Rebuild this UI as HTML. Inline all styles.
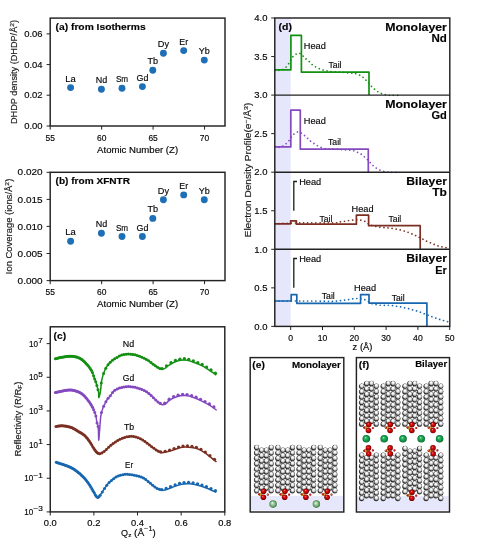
<!DOCTYPE html>
<html><head><meta charset="utf-8"><style>
html,body{margin:0;padding:0;background:#fff;width:500px;height:543px;overflow:hidden}
svg{display:block;will-change:transform}
text{font-family:"Liberation Sans", sans-serif;stroke:#1a1a1a;stroke-width:0.16px}
</style></head><body>
<svg width="500" height="543" viewBox="0 0 500 543">
<defs>
<clipPath id="clipc"><rect x="50.25" y="326.8" width="174.55" height="185.1"/></clipPath>
<clipPath id="clipd"><rect x="274.8" y="18" width="175" height="308.4"/></clipPath>
<radialGradient id="gs" cx="0.5" cy="0.5" r="0.5" fx="0.42" fy="0.32"><stop offset="0" stop-color="#ffffff"/><stop offset="0.3" stop-color="#fafafa"/><stop offset="0.6" stop-color="#d4d4d4"/><stop offset="0.88" stop-color="#8e8e8e"/><stop offset="1" stop-color="#606060"/></radialGradient>
<radialGradient id="gr" cx="0.5" cy="0.5" r="0.5" fx="0.38" fy="0.33"><stop offset="0" stop-color="#ff8a8a"/><stop offset="0.3" stop-color="#e01414"/><stop offset="0.75" stop-color="#b00000"/><stop offset="1" stop-color="#5a0000"/></radialGradient>
<radialGradient id="gp" cx="0.5" cy="0.5" r="0.5"><stop offset="0" stop-color="#e8b040"/><stop offset="1" stop-color="#a06810"/></radialGradient>
<radialGradient id="gg1" cx="0.5" cy="0.5" r="0.5" fx="0.38" fy="0.33"><stop offset="0" stop-color="#e8f8e8"/><stop offset="0.35" stop-color="#a8d4a8"/><stop offset="0.8" stop-color="#5e9a68"/><stop offset="1" stop-color="#3a6a44"/></radialGradient>
<radialGradient id="gg2" cx="0.5" cy="0.5" r="0.5" fx="0.38" fy="0.33"><stop offset="0" stop-color="#a8f0c0"/><stop offset="0.3" stop-color="#28b860"/><stop offset="0.8" stop-color="#0c8a42"/><stop offset="1" stop-color="#055a28"/></radialGradient>
</defs>
<rect x="0" y="0" width="500" height="543" fill="#ffffff"/>
<rect x="50.2" y="18.1" width="174.8" height="107.9" fill="none" stroke="#222222" stroke-width="1.45"/>
<line x1="46.6" y1="126" x2="50.2" y2="126" stroke="#222222" stroke-width="1.0" />
<text x="42.6" y="129.1" font-size="8.6" text-anchor="end" textLength="18.4" lengthAdjust="spacingAndGlyphs" >0.00</text>
<line x1="46.6" y1="95.2" x2="50.2" y2="95.2" stroke="#222222" stroke-width="1.0" />
<text x="42.6" y="98.3" font-size="8.6" text-anchor="end" textLength="18.4" lengthAdjust="spacingAndGlyphs" >0.02</text>
<line x1="46.6" y1="64.6" x2="50.2" y2="64.6" stroke="#222222" stroke-width="1.0" />
<text x="42.6" y="67.7" font-size="8.6" text-anchor="end" textLength="18.4" lengthAdjust="spacingAndGlyphs" >0.04</text>
<line x1="46.6" y1="33.9" x2="50.2" y2="33.9" stroke="#222222" stroke-width="1.0" />
<text x="42.6" y="37" font-size="8.6" text-anchor="end" textLength="18.4" lengthAdjust="spacingAndGlyphs" >0.06</text>
<line x1="50.2" y1="126" x2="50.2" y2="129.6" stroke="#222222" stroke-width="1.0" />
<text x="50.2" y="140.6" font-size="8.6" text-anchor="middle" textLength="9.4" lengthAdjust="spacingAndGlyphs" >55</text>
<line x1="101.65" y1="126" x2="101.65" y2="129.6" stroke="#222222" stroke-width="1.0" />
<text x="101.65" y="140.6" font-size="8.6" text-anchor="middle" textLength="9.4" lengthAdjust="spacingAndGlyphs" >60</text>
<line x1="153.1" y1="126" x2="153.1" y2="129.6" stroke="#222222" stroke-width="1.0" />
<text x="153.1" y="140.6" font-size="8.6" text-anchor="middle" textLength="9.4" lengthAdjust="spacingAndGlyphs" >65</text>
<line x1="204.55" y1="126" x2="204.55" y2="129.6" stroke="#222222" stroke-width="1.0" />
<text x="204.55" y="140.6" font-size="8.6" text-anchor="middle" textLength="9.4" lengthAdjust="spacingAndGlyphs" >70</text>
<text x="137.6" y="152.7" font-size="8.6" text-anchor="middle" textLength="81" lengthAdjust="spacingAndGlyphs" >Atomic Number (Z)</text>
<text transform="translate(16.9,72.05) rotate(-90)" x="0" y="0" font-size="8.6" text-anchor="middle" fill="#1a1a1a" textLength="104" lengthAdjust="spacingAndGlyphs">DHDP density (DHDP/Å<tspan font-size="6.2" dy="-3.2">2</tspan><tspan dy="3.2">)</tspan></text>
<text x="55.6" y="30.2" font-size="8.8" text-anchor="start" font-weight="bold" textLength="90" lengthAdjust="spacingAndGlyphs" >(a) from Isotherms</text>
<circle cx="70.6" cy="87.6" r="3.45" fill="#1f6fb6"/>
<text x="70.6" y="81.6" font-size="8.6" text-anchor="middle" textLength="10.5" lengthAdjust="spacingAndGlyphs" >La</text>
<circle cx="101.4" cy="89.3" r="3.45" fill="#1f6fb6"/>
<text x="101.4" y="83.3" font-size="8.6" text-anchor="middle" textLength="11.5" lengthAdjust="spacingAndGlyphs" >Nd</text>
<circle cx="122" cy="88.2" r="3.45" fill="#1f6fb6"/>
<text x="122" y="82.2" font-size="8.6" text-anchor="middle" textLength="12.2" lengthAdjust="spacingAndGlyphs" >Sm</text>
<circle cx="142.4" cy="86.6" r="3.45" fill="#1f6fb6"/>
<text x="142.4" y="80.6" font-size="8.6" text-anchor="middle" textLength="11.8" lengthAdjust="spacingAndGlyphs" >Gd</text>
<circle cx="152.8" cy="70.3" r="3.45" fill="#1f6fb6"/>
<text x="152.8" y="64.3" font-size="8.6" text-anchor="middle" textLength="10.6" lengthAdjust="spacingAndGlyphs" >Tb</text>
<circle cx="163.4" cy="53.2" r="3.45" fill="#1f6fb6"/>
<text x="163.4" y="47.2" font-size="8.6" text-anchor="middle" textLength="11.2" lengthAdjust="spacingAndGlyphs" >Dy</text>
<circle cx="183.7" cy="50.6" r="3.45" fill="#1f6fb6"/>
<text x="183.7" y="44.6" font-size="8.6" text-anchor="middle" textLength="8.8" lengthAdjust="spacingAndGlyphs" >Er</text>
<circle cx="204.3" cy="60.1" r="3.45" fill="#1f6fb6"/>
<text x="204.3" y="54.1" font-size="8.6" text-anchor="middle" textLength="11" lengthAdjust="spacingAndGlyphs" >Yb</text>
<rect x="50.2" y="172.3" width="174.8" height="108.3" fill="none" stroke="#222222" stroke-width="1.45"/>
<line x1="46.6" y1="280.6" x2="50.2" y2="280.6" stroke="#222222" stroke-width="1.0" />
<text x="42.6" y="283.7" font-size="8.6" text-anchor="end" textLength="25" lengthAdjust="spacingAndGlyphs" >0.000</text>
<line x1="46.6" y1="253.5" x2="50.2" y2="253.5" stroke="#222222" stroke-width="1.0" />
<text x="42.6" y="256.6" font-size="8.6" text-anchor="end" textLength="25" lengthAdjust="spacingAndGlyphs" >0.005</text>
<line x1="46.6" y1="226.4" x2="50.2" y2="226.4" stroke="#222222" stroke-width="1.0" />
<text x="42.6" y="229.5" font-size="8.6" text-anchor="end" textLength="25" lengthAdjust="spacingAndGlyphs" >0.010</text>
<line x1="46.6" y1="199.4" x2="50.2" y2="199.4" stroke="#222222" stroke-width="1.0" />
<text x="42.6" y="202.5" font-size="8.6" text-anchor="end" textLength="25" lengthAdjust="spacingAndGlyphs" >0.015</text>
<line x1="46.6" y1="172.3" x2="50.2" y2="172.3" stroke="#222222" stroke-width="1.0" />
<text x="42.6" y="175.4" font-size="8.6" text-anchor="end" textLength="25" lengthAdjust="spacingAndGlyphs" >0.020</text>
<line x1="50.2" y1="280.6" x2="50.2" y2="284.2" stroke="#222222" stroke-width="1.0" />
<text x="50.2" y="295.2" font-size="8.6" text-anchor="middle" textLength="9.4" lengthAdjust="spacingAndGlyphs" >55</text>
<line x1="101.65" y1="280.6" x2="101.65" y2="284.2" stroke="#222222" stroke-width="1.0" />
<text x="101.65" y="295.2" font-size="8.6" text-anchor="middle" textLength="9.4" lengthAdjust="spacingAndGlyphs" >60</text>
<line x1="153.1" y1="280.6" x2="153.1" y2="284.2" stroke="#222222" stroke-width="1.0" />
<text x="153.1" y="295.2" font-size="8.6" text-anchor="middle" textLength="9.4" lengthAdjust="spacingAndGlyphs" >65</text>
<line x1="204.55" y1="280.6" x2="204.55" y2="284.2" stroke="#222222" stroke-width="1.0" />
<text x="204.55" y="295.2" font-size="8.6" text-anchor="middle" textLength="9.4" lengthAdjust="spacingAndGlyphs" >70</text>
<text x="137.6" y="307.3" font-size="8.6" text-anchor="middle" textLength="81" lengthAdjust="spacingAndGlyphs" >Atomic Number (Z)</text>
<text transform="translate(11.9,226.45) rotate(-90)" x="0" y="0" font-size="8.6" text-anchor="middle" fill="#1a1a1a" textLength="95.5" lengthAdjust="spacingAndGlyphs">Ion Coverage (ions/Å<tspan font-size="6.2" dy="-3.2">2</tspan><tspan dy="3.2">)</tspan></text>
<text x="55.6" y="184.4" font-size="8.8" text-anchor="start" font-weight="bold" textLength="74.4" lengthAdjust="spacingAndGlyphs" >(b) from XFNTR</text>
<circle cx="70.6" cy="241.2" r="3.45" fill="#1f6fb6"/>
<text x="70.6" y="235.2" font-size="8.6" text-anchor="middle" textLength="10.5" lengthAdjust="spacingAndGlyphs" >La</text>
<circle cx="101.4" cy="233.2" r="3.45" fill="#1f6fb6"/>
<text x="101.4" y="227.2" font-size="8.6" text-anchor="middle" textLength="11.5" lengthAdjust="spacingAndGlyphs" >Nd</text>
<circle cx="122" cy="236.5" r="3.45" fill="#1f6fb6"/>
<text x="122" y="230.5" font-size="8.6" text-anchor="middle" textLength="12.2" lengthAdjust="spacingAndGlyphs" >Sm</text>
<circle cx="142.4" cy="236.5" r="3.45" fill="#1f6fb6"/>
<text x="142.4" y="230.5" font-size="8.6" text-anchor="middle" textLength="11.8" lengthAdjust="spacingAndGlyphs" >Gd</text>
<circle cx="152.8" cy="218.4" r="3.45" fill="#1f6fb6"/>
<text x="152.8" y="212.4" font-size="8.6" text-anchor="middle" textLength="10.6" lengthAdjust="spacingAndGlyphs" >Tb</text>
<circle cx="163.4" cy="199.7" r="3.45" fill="#1f6fb6"/>
<text x="163.4" y="193.7" font-size="8.6" text-anchor="middle" textLength="11.2" lengthAdjust="spacingAndGlyphs" >Dy</text>
<circle cx="183.7" cy="194.9" r="3.45" fill="#1f6fb6"/>
<text x="183.7" y="188.9" font-size="8.6" text-anchor="middle" textLength="8.8" lengthAdjust="spacingAndGlyphs" >Er</text>
<circle cx="204.3" cy="199.7" r="3.45" fill="#1f6fb6"/>
<text x="204.3" y="193.7" font-size="8.6" text-anchor="middle" textLength="11" lengthAdjust="spacingAndGlyphs" >Yb</text>
<rect x="50.25" y="326.8" width="174.55" height="185.1" fill="none" stroke="#222222" stroke-width="1.45"/>
<line x1="46.65" y1="343.63" x2="50.25" y2="343.63" stroke="#222222" stroke-width="1.0" />
<text x="38" y="346.83" font-size="8.6" text-anchor="end" textLength="9" lengthAdjust="spacingAndGlyphs" >10</text>
<text x="38.3" y="342.93" font-size="6.3" text-anchor="start" textLength="4.6" lengthAdjust="spacingAndGlyphs" >7</text>
<line x1="46.65" y1="377.28" x2="50.25" y2="377.28" stroke="#222222" stroke-width="1.0" />
<text x="38" y="380.48" font-size="8.6" text-anchor="end" textLength="9" lengthAdjust="spacingAndGlyphs" >10</text>
<text x="38.3" y="376.58" font-size="6.3" text-anchor="start" textLength="4.6" lengthAdjust="spacingAndGlyphs" >5</text>
<line x1="46.65" y1="410.94" x2="50.25" y2="410.94" stroke="#222222" stroke-width="1.0" />
<text x="38" y="414.14" font-size="8.6" text-anchor="end" textLength="9" lengthAdjust="spacingAndGlyphs" >10</text>
<text x="38.3" y="410.24" font-size="6.3" text-anchor="start" textLength="4.6" lengthAdjust="spacingAndGlyphs" >3</text>
<line x1="46.65" y1="444.59" x2="50.25" y2="444.59" stroke="#222222" stroke-width="1.0" />
<text x="38" y="447.79" font-size="8.6" text-anchor="end" textLength="9" lengthAdjust="spacingAndGlyphs" >10</text>
<text x="38.3" y="443.89" font-size="6.3" text-anchor="start" textLength="4.6" lengthAdjust="spacingAndGlyphs" >1</text>
<line x1="46.65" y1="478.25" x2="50.25" y2="478.25" stroke="#222222" stroke-width="1.0" />
<text x="33.2" y="481.45" font-size="8.6" text-anchor="end" textLength="9" lengthAdjust="spacingAndGlyphs" >10</text>
<text x="33.5" y="477.55" font-size="6.3" text-anchor="start" textLength="9.4" lengthAdjust="spacingAndGlyphs" >−1</text>
<line x1="46.65" y1="511.9" x2="50.25" y2="511.9" stroke="#222222" stroke-width="1.0" />
<text x="33.2" y="515.1" font-size="8.6" text-anchor="end" textLength="9" lengthAdjust="spacingAndGlyphs" >10</text>
<text x="33.5" y="511.2" font-size="6.3" text-anchor="start" textLength="9.4" lengthAdjust="spacingAndGlyphs" >−3</text>
<line x1="50.25" y1="511.9" x2="50.25" y2="515.5" stroke="#222222" stroke-width="1.0" />
<text x="50.25" y="526.2" font-size="8.6" text-anchor="middle" textLength="13" lengthAdjust="spacingAndGlyphs" >0.0</text>
<line x1="93.89" y1="511.9" x2="93.89" y2="515.5" stroke="#222222" stroke-width="1.0" />
<text x="93.89" y="526.2" font-size="8.6" text-anchor="middle" textLength="13" lengthAdjust="spacingAndGlyphs" >0.2</text>
<line x1="137.53" y1="511.9" x2="137.53" y2="515.5" stroke="#222222" stroke-width="1.0" />
<text x="137.53" y="526.2" font-size="8.6" text-anchor="middle" textLength="13" lengthAdjust="spacingAndGlyphs" >0.4</text>
<line x1="181.16" y1="511.9" x2="181.16" y2="515.5" stroke="#222222" stroke-width="1.0" />
<text x="181.16" y="526.2" font-size="8.6" text-anchor="middle" textLength="13" lengthAdjust="spacingAndGlyphs" >0.6</text>
<line x1="224.8" y1="511.9" x2="224.8" y2="515.5" stroke="#222222" stroke-width="1.0" />
<text x="224.8" y="526.2" font-size="8.6" text-anchor="middle" textLength="13" lengthAdjust="spacingAndGlyphs" >0.8</text>
<text x="121" y="535.6" font-size="8.6" text-anchor="start" textLength="7" lengthAdjust="spacingAndGlyphs" >Q</text>
<text x="128.2" y="537.4" font-size="6.2" text-anchor="start" textLength="3.2" lengthAdjust="spacingAndGlyphs" >z</text>
<text x="134" y="535.6" font-size="8.6" text-anchor="start" textLength="10.2" lengthAdjust="spacingAndGlyphs" >(Å</text>
<text x="144.1" y="531.4" font-size="6.4" text-anchor="start" textLength="8.4" lengthAdjust="spacingAndGlyphs" >−1</text>
<text x="152.6" y="535.6" font-size="8.6" text-anchor="start" textLength="3.2" lengthAdjust="spacingAndGlyphs" >)</text>
<text transform="translate(20.8,419) rotate(-90)" x="0" y="0" font-size="8.6" text-anchor="middle" fill="#1a1a1a" textLength="75" lengthAdjust="spacingAndGlyphs">Reflectivity (R/R<tspan font-size="6" dy="1.6">F</tspan><tspan dy="-1.6">)</tspan></text>
<text x="53.6" y="338.8" font-size="8.8" text-anchor="start" font-weight="bold" textLength="12.6" lengthAdjust="spacingAndGlyphs" >(c)</text>
<g clip-path="url(#clipc)">
<path d="M55.4,358.8 C56.5,358.53 59.5,357.63 62,357.2 C64.5,356.77 67.8,356.17 70.4,356.2 C73,356.23 75.4,356.6 77.6,357.4 C79.8,358.2 81.63,359.33 83.6,361 C85.57,362.67 87.93,365.48 89.4,367.4 C90.87,369.32 91.6,370.78 92.4,372.5 C93.2,374.22 93.58,375.98 94.2,377.7 C94.82,379.42 95.55,381.08 96.1,382.8 C96.65,384.52 97.08,386.4 97.5,388 C97.92,389.6 98.37,390.8 98.6,392.4 C98.83,394 98.58,397.83 98.9,397.6 C99.22,397.37 100.05,393.77 100.5,391 C100.95,388.23 101.12,383.83 101.6,381 C102.08,378.17 102.78,375.97 103.4,374 C104.02,372.03 104.62,370.62 105.3,369.2 C105.98,367.78 106.72,366.6 107.5,365.5 C108.28,364.4 109,363.58 110,362.6 C111,361.62 111.57,360.85 113.5,359.6 C115.43,358.35 118.85,356.02 121.6,355.1 C124.35,354.18 127.2,353.98 130,354.1 C132.8,354.22 135.6,354.88 138.4,355.8 C141.2,356.72 144.4,358.25 146.8,359.6 C149.2,360.95 151.1,362.68 152.8,363.9 C154.5,365.12 155.6,366 157,366.9 C158.4,367.8 159.87,369.04 161.2,369.28 C162.53,369.52 163.82,368.95 165,368.35 C166.18,367.75 166.47,366.84 168.3,365.7 C170.13,364.56 173.2,362.43 176,361.5 C178.8,360.57 182.07,359.93 185.1,360.1 C188.13,360.27 191.17,361.45 194.2,362.5 C197.23,363.55 200.5,364.93 203.3,366.4 C206.1,367.87 208.83,369.83 211,371.3 C213.17,372.77 215.42,374.55 216.3,375.2" fill="none" stroke="#139013" stroke-width="1.5" stroke-linejoin="round"/>
<circle cx="55.4" cy="358.8" r="1.5" fill="#139013"/>
<circle cx="56.54" cy="358.5" r="1.5" fill="#139013"/>
<circle cx="57.71" cy="358.19" r="1.5" fill="#139013"/>
<circle cx="58.91" cy="357.87" r="1.5" fill="#139013"/>
<circle cx="60.07" cy="357.6" r="1.5" fill="#139013"/>
<circle cx="61.24" cy="357.34" r="1.5" fill="#139013"/>
<circle cx="62.38" cy="357.13" r="1.5" fill="#139013"/>
<circle cx="63.58" cy="356.93" r="1.5" fill="#139013"/>
<circle cx="64.71" cy="356.74" r="1.5" fill="#139013"/>
<circle cx="65.87" cy="356.57" r="1.5" fill="#139013"/>
<circle cx="67.04" cy="356.41" r="1.5" fill="#139013"/>
<circle cx="68.2" cy="356.29" r="1.5" fill="#139013"/>
<circle cx="69.33" cy="356.22" r="1.5" fill="#139013"/>
<circle cx="70.53" cy="356.2" r="1.5" fill="#139013"/>
<circle cx="71.68" cy="356.24" r="1.5" fill="#139013"/>
<circle cx="72.81" cy="356.34" r="1.5" fill="#139013"/>
<circle cx="74.03" cy="356.49" r="1.5" fill="#139013"/>
<circle cx="75.22" cy="356.71" r="1.5" fill="#139013"/>
<circle cx="76.37" cy="357" r="1.5" fill="#139013"/>
<circle cx="77.49" cy="357.36" r="1.5" fill="#139013"/>
<circle cx="78.67" cy="357.83" r="1.5" fill="#139013"/>
<circle cx="79.8" cy="358.37" r="1.5" fill="#139013"/>
<circle cx="80.98" cy="359.06" r="1.5" fill="#139013"/>
<circle cx="82.14" cy="359.85" r="1.5" fill="#139013"/>
<circle cx="83.31" cy="360.75" r="1.5" fill="#139013"/>
<circle cx="84.51" cy="361.82" r="1.5" fill="#139013"/>
<circle cx="85.65" cy="362.97" r="1.5" fill="#139013"/>
<circle cx="86.79" cy="364.22" r="1.5" fill="#139013"/>
<circle cx="87.97" cy="365.6" r="1.5" fill="#139013"/>
<circle cx="89.1" cy="367.01" r="1.5" fill="#139013"/>
<circle cx="90.2" cy="368.5" r="1.5" fill="#139013"/>
<circle cx="91.33" cy="370.35" r="1.5" fill="#139013"/>
<circle cx="92.44" cy="372.59" r="1.5" fill="#139013"/>
<circle cx="93.56" cy="375.71" r="1.5" fill="#139013"/>
<circle cx="94.68" cy="378.98" r="1.5" fill="#139013"/>
<circle cx="95.78" cy="381.86" r="1.5" fill="#139013"/>
<circle cx="96.9" cy="385.62" r="1.5" fill="#139013"/>
<circle cx="98" cy="389.78" r="1.5" fill="#139013"/>
<circle cx="101.32" cy="383.03" r="1.5" fill="#139013"/>
<circle cx="103.55" cy="373.52" r="1.5" fill="#139013"/>
<circle cx="105.79" cy="368.24" r="1.5" fill="#139013"/>
<circle cx="108" cy="364.82" r="1.5" fill="#139013"/>
<circle cx="110.24" cy="362.36" r="1.5" fill="#139013"/>
<circle cx="112.49" cy="360.3" r="1.5" fill="#139013"/>
<circle cx="114.7" cy="358.82" r="1.5" fill="#139013"/>
<circle cx="116.96" cy="357.4" r="1.5" fill="#139013"/>
<circle cx="119.3" cy="356.09" r="1.5" fill="#139013"/>
<circle cx="121.6" cy="355.1" r="1.5" fill="#139013"/>
<circle cx="123.82" cy="354.51" r="1.5" fill="#139013"/>
<circle cx="126.06" cy="354.18" r="1.5" fill="#139013"/>
<circle cx="128.32" cy="354.07" r="1.5" fill="#139013"/>
<circle cx="130.56" cy="354.13" r="1.5" fill="#139013"/>
<circle cx="132.8" cy="354.39" r="1.5" fill="#139013"/>
<circle cx="135.04" cy="354.84" r="1.5" fill="#139013"/>
<circle cx="137.28" cy="355.45" r="1.5" fill="#139013"/>
<circle cx="139.54" cy="356.2" r="1.5" fill="#139013"/>
<circle cx="141.88" cy="357.14" r="1.5" fill="#139013"/>
<circle cx="144.18" cy="358.22" r="1.5" fill="#139013"/>
<circle cx="146.43" cy="359.4" r="1.5" fill="#139013"/>
<circle cx="148.73" cy="360.82" r="1.5" fill="#139013"/>
<circle cx="150.93" cy="362.47" r="1.5" fill="#139013"/>
<circle cx="153.13" cy="364.14" r="1.5" fill="#139013"/>
<circle cx="155.34" cy="365.76" r="1.5" fill="#139013"/>
<circle cx="157.56" cy="367.27" r="1.5" fill="#139013"/>
<circle cx="159.83" cy="368.46" r="1.5" fill="#139013"/>
<circle cx="162.06" cy="368.67" r="1.65" fill="#139013"/>
<circle cx="166.5" cy="365.84" r="1.65" fill="#139013"/>
<circle cx="171" cy="362.7" r="1.65" fill="#139013"/>
<circle cx="175.44" cy="360.4" r="1.65" fill="#139013"/>
<circle cx="179.85" cy="359.2" r="1.65" fill="#139013"/>
<circle cx="184.34" cy="358.77" r="1.65" fill="#139013"/>
<circle cx="188.74" cy="359.41" r="1.65" fill="#139013"/>
<circle cx="193.29" cy="360.88" r="1.65" fill="#139013"/>
<circle cx="197.75" cy="362.54" r="1.65" fill="#139013"/>
<circle cx="202.16" cy="364.52" r="1.65" fill="#139013"/>
<circle cx="206.6" cy="367.04" r="1.65" fill="#139013"/>
<circle cx="211" cy="370" r="1.65" fill="#139013"/>
<circle cx="215.4" cy="373.22" r="1.65" fill="#139013"/>
<path d="M55.4,392.6 C56.5,392.33 59.5,391.43 62,391 C64.5,390.57 67.8,389.9 70.4,390 C73,390.1 75.4,390.73 77.6,391.6 C79.8,392.47 81.48,393.23 83.6,395.2 C85.72,397.17 88.67,401.08 90.3,403.4 C91.93,405.72 92.58,407.4 93.4,409.1 C94.22,410.8 94.75,412.27 95.2,413.6 C95.65,414.93 95.82,415.63 96.1,417.1 C96.38,418.57 96.53,420.63 96.9,422.4 C97.27,424.17 98,424.75 98.3,427.7 C98.6,430.65 98.48,439.65 98.7,440.1 C98.92,440.55 99.23,434.53 99.6,430.4 C99.97,426.27 100.32,419.07 100.9,415.3 C101.48,411.53 102.37,409.85 103.1,407.8 C103.83,405.75 104.57,404.47 105.3,403 C106.03,401.53 106.62,400.27 107.5,399 C108.38,397.73 109.45,396.8 110.6,395.4 C111.75,394 112.57,391.93 114.4,390.6 C116.23,389.27 119,388.07 121.6,387.4 C124.2,386.73 127,386.4 130,386.6 C133,386.8 136.6,387.57 139.6,388.6 C142.6,389.63 145.43,391.02 148,392.8 C150.57,394.58 152.75,397.36 155,399.3 C157.25,401.24 159.67,403.72 161.5,404.44 C163.33,405.15 164.75,404.26 166,403.6 C167.25,402.94 167.33,401.6 169,400.5 C170.67,399.4 173.32,397.82 176,397 C178.68,396.18 182.07,395.48 185.1,395.6 C188.13,395.72 191.17,396.65 194.2,397.7 C197.23,398.75 200.5,400.5 203.3,401.9 C206.1,403.3 208.78,404.7 211,406.1 C213.22,407.5 215.67,409.6 216.6,410.3" fill="none" stroke="#8448bf" stroke-width="1.5" stroke-linejoin="round"/>
<circle cx="55.4" cy="392.6" r="1.5" fill="#8448bf"/>
<circle cx="56.54" cy="392.3" r="1.5" fill="#8448bf"/>
<circle cx="57.71" cy="391.99" r="1.5" fill="#8448bf"/>
<circle cx="58.91" cy="391.67" r="1.5" fill="#8448bf"/>
<circle cx="60.07" cy="391.4" r="1.5" fill="#8448bf"/>
<circle cx="61.24" cy="391.14" r="1.5" fill="#8448bf"/>
<circle cx="62.38" cy="390.93" r="1.5" fill="#8448bf"/>
<circle cx="63.58" cy="390.72" r="1.5" fill="#8448bf"/>
<circle cx="64.71" cy="390.53" r="1.5" fill="#8448bf"/>
<circle cx="65.87" cy="390.34" r="1.5" fill="#8448bf"/>
<circle cx="67.04" cy="390.18" r="1.5" fill="#8448bf"/>
<circle cx="68.2" cy="390.06" r="1.5" fill="#8448bf"/>
<circle cx="69.33" cy="390" r="1.5" fill="#8448bf"/>
<circle cx="70.53" cy="390.01" r="1.5" fill="#8448bf"/>
<circle cx="71.68" cy="390.09" r="1.5" fill="#8448bf"/>
<circle cx="72.81" cy="390.25" r="1.5" fill="#8448bf"/>
<circle cx="74.03" cy="390.48" r="1.5" fill="#8448bf"/>
<circle cx="75.22" cy="390.79" r="1.5" fill="#8448bf"/>
<circle cx="76.37" cy="391.15" r="1.5" fill="#8448bf"/>
<circle cx="77.49" cy="391.56" r="1.5" fill="#8448bf"/>
<circle cx="78.66" cy="392.03" r="1.5" fill="#8448bf"/>
<circle cx="79.86" cy="392.58" r="1.5" fill="#8448bf"/>
<circle cx="81.02" cy="393.21" r="1.5" fill="#8448bf"/>
<circle cx="82.18" cy="394" r="1.5" fill="#8448bf"/>
<circle cx="83.29" cy="394.91" r="1.5" fill="#8448bf"/>
<circle cx="84.49" cy="396.08" r="1.5" fill="#8448bf"/>
<circle cx="85.67" cy="397.4" r="1.5" fill="#8448bf"/>
<circle cx="86.89" cy="398.87" r="1.5" fill="#8448bf"/>
<circle cx="88.08" cy="400.38" r="1.5" fill="#8448bf"/>
<circle cx="89.18" cy="401.85" r="1.5" fill="#8448bf"/>
<circle cx="90.3" cy="403.4" r="1.5" fill="#8448bf"/>
<circle cx="91.42" cy="405.13" r="1.5" fill="#8448bf"/>
<circle cx="92.55" cy="407.29" r="1.5" fill="#8448bf"/>
<circle cx="93.67" cy="409.69" r="1.5" fill="#8448bf"/>
<circle cx="94.79" cy="412.43" r="1.5" fill="#8448bf"/>
<circle cx="95.9" cy="416.12" r="1.5" fill="#8448bf"/>
<circle cx="97.02" cy="422.9" r="1.5" fill="#8448bf"/>
<circle cx="98.14" cy="426.52" r="1.5" fill="#8448bf"/>
<circle cx="101.46" cy="412.54" r="1.5" fill="#8448bf"/>
<circle cx="103.69" cy="406.31" r="1.5" fill="#8448bf"/>
<circle cx="105.9" cy="401.8" r="1.5" fill="#8448bf"/>
<circle cx="108.1" cy="398.22" r="1.5" fill="#8448bf"/>
<circle cx="110.31" cy="395.74" r="1.5" fill="#8448bf"/>
<circle cx="112.54" cy="392.55" r="1.5" fill="#8448bf"/>
<circle cx="114.78" cy="390.34" r="1.5" fill="#8448bf"/>
<circle cx="117.1" cy="389.03" r="1.5" fill="#8448bf"/>
<circle cx="119.37" cy="388.09" r="1.5" fill="#8448bf"/>
<circle cx="121.6" cy="387.4" r="1.5" fill="#8448bf"/>
<circle cx="123.86" cy="386.92" r="1.5" fill="#8448bf"/>
<circle cx="126.07" cy="386.64" r="1.5" fill="#8448bf"/>
<circle cx="128.37" cy="386.54" r="1.5" fill="#8448bf"/>
<circle cx="130.61" cy="386.65" r="1.5" fill="#8448bf"/>
<circle cx="132.83" cy="386.92" r="1.5" fill="#8448bf"/>
<circle cx="135.13" cy="387.36" r="1.5" fill="#8448bf"/>
<circle cx="137.42" cy="387.92" r="1.5" fill="#8448bf"/>
<circle cx="139.75" cy="388.65" r="1.5" fill="#8448bf"/>
<circle cx="141.96" cy="389.5" r="1.5" fill="#8448bf"/>
<circle cx="144.24" cy="390.56" r="1.5" fill="#8448bf"/>
<circle cx="146.56" cy="391.86" r="1.5" fill="#8448bf"/>
<circle cx="148.88" cy="393.46" r="1.5" fill="#8448bf"/>
<circle cx="151.16" cy="395.53" r="1.5" fill="#8448bf"/>
<circle cx="153.43" cy="397.83" r="1.5" fill="#8448bf"/>
<circle cx="155.68" cy="399.9" r="1.5" fill="#8448bf"/>
<circle cx="157.96" cy="401.94" r="1.5" fill="#8448bf"/>
<circle cx="160.23" cy="403.41" r="1.65" fill="#8448bf"/>
<circle cx="164.69" cy="403.27" r="1.65" fill="#8448bf"/>
<circle cx="169.17" cy="399.19" r="1.65" fill="#8448bf"/>
<circle cx="173.62" cy="396.71" r="1.65" fill="#8448bf"/>
<circle cx="178.13" cy="395.22" r="1.65" fill="#8448bf"/>
<circle cx="182.62" cy="394.47" r="1.65" fill="#8448bf"/>
<circle cx="187.07" cy="394.58" r="1.65" fill="#8448bf"/>
<circle cx="191.62" cy="395.65" r="1.65" fill="#8448bf"/>
<circle cx="196.04" cy="397.21" r="1.65" fill="#8448bf"/>
<circle cx="200.52" cy="399.3" r="1.65" fill="#8448bf"/>
<circle cx="204.96" cy="401.54" r="1.65" fill="#8448bf"/>
<circle cx="209.38" cy="403.92" r="1.65" fill="#8448bf"/>
<circle cx="213.87" cy="406.94" r="1.65" fill="#8448bf"/>
<path d="M56,426.4 C57.2,426.3 60.6,425.6 63.2,425.8 C65.8,426 68.8,426.5 71.6,427.6 C74.4,428.7 77.77,431.03 80,432.4 C82.23,433.77 83.37,434.23 85,435.8 C86.63,437.37 88.2,439.5 89.8,441.8 C91.4,444.1 93.1,447.63 94.6,449.6 C96.1,451.57 97.2,453.3 98.8,453.6 C100.4,453.9 102.1,452.87 104.2,451.4 C106.3,449.93 108.8,446.8 111.4,444.8 C114,442.8 116.8,440.8 119.8,439.4 C122.8,438 126.4,436.7 129.4,436.4 C132.4,436.1 135.4,436.9 137.8,437.6 C140.2,438.3 141.73,439.28 143.8,440.6 C145.87,441.92 148.17,443.97 150.2,445.5 C152.23,447.03 154.15,448.63 156,449.8 C157.85,450.97 159.63,452.14 161.3,452.52 C162.97,452.91 164.45,452.37 166,452.1 C167.55,451.83 168.42,451.6 170.6,450.9 C172.78,450.2 176.55,448.57 179.1,447.9 C181.65,447.23 183.07,446.83 185.9,446.9 C188.73,446.97 192.98,447.35 196.1,448.3 C199.22,449.25 201.2,450.32 204.6,452.6 C208,454.88 214.52,460.43 216.5,462" fill="none" stroke="#7b2f22" stroke-width="1.5" stroke-linejoin="round"/>
<circle cx="56" cy="426.4" r="1.5" fill="#7b2f22"/>
<circle cx="57.16" cy="426.25" r="1.5" fill="#7b2f22"/>
<circle cx="58.3" cy="426.09" r="1.5" fill="#7b2f22"/>
<circle cx="59.48" cy="425.94" r="1.5" fill="#7b2f22"/>
<circle cx="60.58" cy="425.83" r="1.5" fill="#7b2f22"/>
<circle cx="61.71" cy="425.77" r="1.5" fill="#7b2f22"/>
<circle cx="62.94" cy="425.78" r="1.5" fill="#7b2f22"/>
<circle cx="64.13" cy="425.88" r="1.5" fill="#7b2f22"/>
<circle cx="65.35" cy="426.03" r="1.5" fill="#7b2f22"/>
<circle cx="66.47" cy="426.2" r="1.5" fill="#7b2f22"/>
<circle cx="67.61" cy="426.42" r="1.5" fill="#7b2f22"/>
<circle cx="68.76" cy="426.69" r="1.5" fill="#7b2f22"/>
<circle cx="69.9" cy="427.01" r="1.5" fill="#7b2f22"/>
<circle cx="71.04" cy="427.39" r="1.5" fill="#7b2f22"/>
<circle cx="72.17" cy="427.84" r="1.5" fill="#7b2f22"/>
<circle cx="73.33" cy="428.39" r="1.5" fill="#7b2f22"/>
<circle cx="74.53" cy="429.03" r="1.5" fill="#7b2f22"/>
<circle cx="75.72" cy="429.72" r="1.5" fill="#7b2f22"/>
<circle cx="76.88" cy="430.44" r="1.5" fill="#7b2f22"/>
<circle cx="78" cy="431.14" r="1.5" fill="#7b2f22"/>
<circle cx="79.17" cy="431.89" r="1.5" fill="#7b2f22"/>
<circle cx="80.33" cy="432.6" r="1.5" fill="#7b2f22"/>
<circle cx="81.49" cy="433.29" r="1.5" fill="#7b2f22"/>
<circle cx="82.65" cy="433.98" r="1.5" fill="#7b2f22"/>
<circle cx="83.77" cy="434.74" r="1.5" fill="#7b2f22"/>
<circle cx="84.92" cy="435.72" r="1.5" fill="#7b2f22"/>
<circle cx="86.05" cy="436.89" r="1.5" fill="#7b2f22"/>
<circle cx="87.17" cy="438.22" r="1.5" fill="#7b2f22"/>
<circle cx="88.29" cy="439.68" r="1.5" fill="#7b2f22"/>
<circle cx="89.4" cy="441.23" r="1.5" fill="#7b2f22"/>
<circle cx="90.53" cy="442.91" r="1.5" fill="#7b2f22"/>
<circle cx="91.67" cy="444.83" r="1.5" fill="#7b2f22"/>
<circle cx="92.8" cy="446.81" r="1.5" fill="#7b2f22"/>
<circle cx="93.91" cy="448.62" r="1.5" fill="#7b2f22"/>
<circle cx="95.04" cy="450.18" r="1.5" fill="#7b2f22"/>
<circle cx="96.2" cy="451.69" r="1.5" fill="#7b2f22"/>
<circle cx="97.33" cy="452.87" r="1.5" fill="#7b2f22"/>
<circle cx="98.49" cy="453.52" r="1.5" fill="#7b2f22"/>
<circle cx="99.61" cy="453.64" r="1.5" fill="#7b2f22"/>
<circle cx="101.85" cy="452.89" r="1.5" fill="#7b2f22"/>
<circle cx="104.1" cy="451.47" r="1.5" fill="#7b2f22"/>
<circle cx="106.31" cy="449.59" r="1.5" fill="#7b2f22"/>
<circle cx="108.6" cy="447.32" r="1.5" fill="#7b2f22"/>
<circle cx="110.88" cy="445.21" r="1.5" fill="#7b2f22"/>
<circle cx="113.12" cy="443.51" r="1.5" fill="#7b2f22"/>
<circle cx="115.45" cy="441.88" r="1.5" fill="#7b2f22"/>
<circle cx="117.73" cy="440.47" r="1.5" fill="#7b2f22"/>
<circle cx="119.95" cy="439.33" r="1.5" fill="#7b2f22"/>
<circle cx="122.31" cy="438.32" r="1.5" fill="#7b2f22"/>
<circle cx="124.6" cy="437.49" r="1.5" fill="#7b2f22"/>
<circle cx="126.89" cy="436.84" r="1.5" fill="#7b2f22"/>
<circle cx="129.1" cy="436.43" r="1.5" fill="#7b2f22"/>
<circle cx="131.34" cy="436.35" r="1.5" fill="#7b2f22"/>
<circle cx="133.68" cy="436.6" r="1.5" fill="#7b2f22"/>
<circle cx="135.9" cy="437.07" r="1.5" fill="#7b2f22"/>
<circle cx="138.15" cy="437.71" r="1.5" fill="#7b2f22"/>
<circle cx="140.45" cy="438.63" r="1.5" fill="#7b2f22"/>
<circle cx="142.71" cy="439.91" r="1.5" fill="#7b2f22"/>
<circle cx="144.96" cy="441.39" r="1.5" fill="#7b2f22"/>
<circle cx="147.23" cy="443.14" r="1.5" fill="#7b2f22"/>
<circle cx="149.48" cy="444.94" r="1.5" fill="#7b2f22"/>
<circle cx="151.7" cy="446.65" r="1.5" fill="#7b2f22"/>
<circle cx="153.94" cy="448.36" r="1.5" fill="#7b2f22"/>
<circle cx="156.18" cy="449.92" r="1.5" fill="#7b2f22"/>
<circle cx="158.45" cy="451.25" r="1.5" fill="#7b2f22"/>
<circle cx="160.71" cy="452.02" r="1.65" fill="#7b2f22"/>
<circle cx="165.15" cy="451.37" r="1.65" fill="#7b2f22"/>
<circle cx="169.61" cy="450.21" r="1.65" fill="#7b2f22"/>
<circle cx="174.1" cy="448.62" r="1.65" fill="#7b2f22"/>
<circle cx="178.57" cy="447.05" r="1.65" fill="#7b2f22"/>
<circle cx="183.02" cy="446.03" r="1.65" fill="#7b2f22"/>
<circle cx="187.42" cy="445.96" r="1.65" fill="#7b2f22"/>
<circle cx="191.98" cy="446.42" r="1.65" fill="#7b2f22"/>
<circle cx="196.41" cy="447.4" r="1.65" fill="#7b2f22"/>
<circle cx="200.9" cy="449.3" r="1.65" fill="#7b2f22"/>
<circle cx="205.32" cy="452.1" r="1.65" fill="#7b2f22"/>
<circle cx="209.92" cy="455.63" r="1.65" fill="#7b2f22"/>
<circle cx="214.47" cy="459.34" r="1.65" fill="#7b2f22"/>
<path d="M56.3,462.3 C57.58,462.72 61.32,463.8 64,464.8 C66.68,465.8 69.6,466.67 72.4,468.3 C75.2,469.93 78.23,472.27 80.8,474.6 C83.37,476.93 85.7,479.5 87.8,482.3 C89.9,485.1 91.77,488.88 93.4,491.4 C95.03,493.92 96.2,497.17 97.6,497.4 C99,497.63 100.17,494.97 101.8,492.8 C103.43,490.63 105.3,486.85 107.4,484.4 C109.5,481.95 112.3,479.62 114.4,478.1 C116.5,476.58 117.7,475.92 120,475.3 C122.3,474.68 124.63,474.12 128.2,474.4 C131.77,474.68 137.77,475.57 141.4,477 C145.03,478.43 147.82,481.37 150,483 C152.18,484.63 152.75,485.64 154.5,486.8 C156.25,487.96 158.75,489.43 160.5,489.98 C162.25,490.52 163,490.51 165,490.05 C167,489.59 169.75,488.18 172.5,487.2 C175.25,486.22 178.62,484.77 181.5,484.2 C184.38,483.63 187.05,483.63 189.8,483.8 C192.55,483.97 195.13,484.47 198,485.2 C200.87,485.93 203.95,487 207,488.2 C210.05,489.4 214.75,491.7 216.3,492.4" fill="none" stroke="#1766b0" stroke-width="1.5" stroke-linejoin="round"/>
<circle cx="56.3" cy="462.3" r="1.5" fill="#1766b0"/>
<circle cx="57.44" cy="462.66" r="1.5" fill="#1766b0"/>
<circle cx="58.66" cy="463.03" r="1.5" fill="#1766b0"/>
<circle cx="59.77" cy="463.38" r="1.5" fill="#1766b0"/>
<circle cx="60.95" cy="463.75" r="1.5" fill="#1766b0"/>
<circle cx="62.14" cy="464.15" r="1.5" fill="#1766b0"/>
<circle cx="63.31" cy="464.55" r="1.5" fill="#1766b0"/>
<circle cx="64.54" cy="465" r="1.5" fill="#1766b0"/>
<circle cx="65.77" cy="465.44" r="1.5" fill="#1766b0"/>
<circle cx="66.89" cy="465.84" r="1.5" fill="#1766b0"/>
<circle cx="68.01" cy="466.26" r="1.5" fill="#1766b0"/>
<circle cx="69.15" cy="466.71" r="1.5" fill="#1766b0"/>
<circle cx="70.28" cy="467.2" r="1.5" fill="#1766b0"/>
<circle cx="71.42" cy="467.76" r="1.5" fill="#1766b0"/>
<circle cx="72.54" cy="468.38" r="1.5" fill="#1766b0"/>
<circle cx="73.67" cy="469.08" r="1.5" fill="#1766b0"/>
<circle cx="74.82" cy="469.84" r="1.5" fill="#1766b0"/>
<circle cx="75.97" cy="470.66" r="1.5" fill="#1766b0"/>
<circle cx="77.12" cy="471.51" r="1.5" fill="#1766b0"/>
<circle cx="78.24" cy="472.41" r="1.5" fill="#1766b0"/>
<circle cx="79.35" cy="473.32" r="1.5" fill="#1766b0"/>
<circle cx="80.54" cy="474.37" r="1.5" fill="#1766b0"/>
<circle cx="81.69" cy="475.43" r="1.5" fill="#1766b0"/>
<circle cx="82.8" cy="476.52" r="1.5" fill="#1766b0"/>
<circle cx="84.01" cy="477.76" r="1.5" fill="#1766b0"/>
<circle cx="85.17" cy="479.05" r="1.5" fill="#1766b0"/>
<circle cx="86.29" cy="480.38" r="1.5" fill="#1766b0"/>
<circle cx="87.48" cy="481.88" r="1.5" fill="#1766b0"/>
<circle cx="88.63" cy="483.47" r="1.5" fill="#1766b0"/>
<circle cx="89.82" cy="485.34" r="1.5" fill="#1766b0"/>
<circle cx="90.96" cy="487.28" r="1.5" fill="#1766b0"/>
<circle cx="92.13" cy="489.31" r="1.5" fill="#1766b0"/>
<circle cx="93.24" cy="491.14" r="1.5" fill="#1766b0"/>
<circle cx="94.4" cy="493.1" r="1.5" fill="#1766b0"/>
<circle cx="95.52" cy="495.14" r="1.5" fill="#1766b0"/>
<circle cx="96.65" cy="496.79" r="1.5" fill="#1766b0"/>
<circle cx="97.81" cy="497.41" r="1.5" fill="#1766b0"/>
<circle cx="98.95" cy="496.79" r="1.5" fill="#1766b0"/>
<circle cx="100.09" cy="495.32" r="1.5" fill="#1766b0"/>
<circle cx="102.3" cy="492.1" r="1.5" fill="#1766b0"/>
<circle cx="104.52" cy="488.55" r="1.5" fill="#1766b0"/>
<circle cx="106.78" cy="485.17" r="1.5" fill="#1766b0"/>
<circle cx="109.08" cy="482.6" r="1.5" fill="#1766b0"/>
<circle cx="111.39" cy="480.47" r="1.5" fill="#1766b0"/>
<circle cx="113.64" cy="478.66" r="1.5" fill="#1766b0"/>
<circle cx="115.93" cy="477.05" r="1.5" fill="#1766b0"/>
<circle cx="118.17" cy="475.89" r="1.5" fill="#1766b0"/>
<circle cx="120.46" cy="475.18" r="1.5" fill="#1766b0"/>
<circle cx="122.73" cy="474.66" r="1.5" fill="#1766b0"/>
<circle cx="125" cy="474.37" r="1.5" fill="#1766b0"/>
<circle cx="127.33" cy="474.35" r="1.5" fill="#1766b0"/>
<circle cx="129.54" cy="474.52" r="1.5" fill="#1766b0"/>
<circle cx="131.94" cy="474.82" r="1.5" fill="#1766b0"/>
<circle cx="134.3" cy="475.18" r="1.5" fill="#1766b0"/>
<circle cx="136.69" cy="475.65" r="1.5" fill="#1766b0"/>
<circle cx="138.97" cy="476.21" r="1.5" fill="#1766b0"/>
<circle cx="141.22" cy="476.93" r="1.5" fill="#1766b0"/>
<circle cx="143.48" cy="478.02" r="1.5" fill="#1766b0"/>
<circle cx="145.81" cy="479.59" r="1.5" fill="#1766b0"/>
<circle cx="148.12" cy="481.47" r="1.5" fill="#1766b0"/>
<circle cx="150.42" cy="483.32" r="1.5" fill="#1766b0"/>
<circle cx="152.66" cy="485.31" r="1.5" fill="#1766b0"/>
<circle cx="154.95" cy="487.1" r="1.5" fill="#1766b0"/>
<circle cx="157.18" cy="488.44" r="1.5" fill="#1766b0"/>
<circle cx="159.47" cy="489.35" r="1.5" fill="#1766b0"/>
<circle cx="161.73" cy="489.69" r="1.65" fill="#1766b0"/>
<circle cx="166.17" cy="488.41" r="1.65" fill="#1766b0"/>
<circle cx="170.58" cy="486.64" r="1.65" fill="#1766b0"/>
<circle cx="175.11" cy="484.93" r="1.65" fill="#1766b0"/>
<circle cx="179.57" cy="483.38" r="1.65" fill="#1766b0"/>
<circle cx="184.04" cy="482.53" r="1.65" fill="#1766b0"/>
<circle cx="188.57" cy="482.44" r="1.65" fill="#1766b0"/>
<circle cx="193.05" cy="482.85" r="1.65" fill="#1766b0"/>
<circle cx="197.57" cy="483.79" r="1.65" fill="#1766b0"/>
<circle cx="201.98" cy="485.07" r="1.65" fill="#1766b0"/>
<circle cx="206.39" cy="486.66" r="1.65" fill="#1766b0"/>
<circle cx="210.96" cy="488.61" r="1.65" fill="#1766b0"/>
<circle cx="215.41" cy="490.69" r="1.65" fill="#1766b0"/>
</g>
<text x="128.5" y="347.2" font-size="8.6" text-anchor="middle" textLength="11.4" lengthAdjust="spacingAndGlyphs" >Nd</text>
<text x="128.5" y="380.8" font-size="8.6" text-anchor="middle" textLength="11.4" lengthAdjust="spacingAndGlyphs" >Gd</text>
<text x="129.1" y="430.4" font-size="8.6" text-anchor="middle" textLength="10.2" lengthAdjust="spacingAndGlyphs" >Tb</text>
<text x="129.1" y="467.6" font-size="8.6" text-anchor="middle" textLength="8" lengthAdjust="spacingAndGlyphs" >Er</text>
<rect x="274.8" y="18.0" width="15.90" height="308.40" fill="#e7e7fc"/>
<g clip-path="url(#clipd)">
<path d="M274.8,69.8 H290.9 V35.4 H301.4 V72.1 H369 V95.1" fill="none" stroke="#139013" stroke-width="1.7" stroke-linejoin="round"/>
<path d="M274.8,70.6 C275.23,70.6 276.37,70.7 277.4,70.6 C278.43,70.5 279.8,70.33 281,70 C282.2,69.67 283.5,69.4 284.6,68.6 C285.7,67.8 286.7,66.37 287.6,65.2 C288.5,64.03 289.3,62.8 290,61.6 C290.7,60.4 291,59.1 291.8,58 C292.6,56.9 293.6,55.8 294.8,55 C296,54.2 297.7,53.1 299,53.2 C300.3,53.3 301.5,54.7 302.6,55.6 C303.7,56.5 304.5,57.6 305.6,58.6 C306.7,59.6 308.1,60.6 309.2,61.6 C310.3,62.6 311.1,63.7 312.2,64.6 C313.3,65.5 314.6,66.3 315.8,67 C317,67.7 318.2,68.3 319.4,68.8 C320.6,69.3 321.7,69.63 323,70 C324.3,70.37 325.8,70.73 327.2,71 C328.6,71.27 329.27,71.4 331.4,71.6 C333.53,71.8 336.47,71.92 340,72.2 C343.53,72.48 349.8,73 352.6,73.3 C355.4,73.6 355.45,73.6 356.8,74 C358.15,74.4 359.48,75 360.7,75.7 C361.92,76.4 363.07,77.27 364.1,78.2 C365.13,79.13 365.97,80.25 366.9,81.3 C367.83,82.35 368.7,83.43 369.7,84.5 C370.7,85.57 371.83,86.7 372.9,87.7 C373.97,88.7 375,89.68 376.1,90.5 C377.2,91.32 378.33,92.02 379.5,92.6 C380.67,93.18 381.8,93.6 383.1,94 C384.4,94.4 385.9,94.78 387.3,95 C388.7,95.22 389.38,95.25 391.5,95.3 C393.62,95.35 398.58,95.3 400,95.3" fill="none" stroke="#139013" stroke-width="1.7" stroke-linecap="round" stroke-dasharray="0.01 4.1"/>
<path d="M274.8,146.9 H290.8 V110.2 H300.3 V149.2 H368.3 V172.2" fill="none" stroke="#8448bf" stroke-width="1.7" stroke-linejoin="round"/>
<path d="M274.8,147.5 C275.53,147.47 277.87,147.53 279.2,147.3 C280.53,147.07 281.6,146.73 282.8,146.1 C284,145.47 285.3,144.5 286.4,143.5 C287.5,142.5 288.5,141.27 289.4,140.1 C290.3,138.93 291,137.53 291.8,136.5 C292.6,135.47 293.2,134.67 294.2,133.9 C295.2,133.13 296.6,132.03 297.8,131.9 C299,131.77 300.2,132.43 301.4,133.1 C302.6,133.77 303.9,134.97 305,135.9 C306.1,136.83 307,137.77 308,138.7 C309,139.63 309.9,140.63 311,141.5 C312.1,142.37 313.4,143.13 314.6,143.9 C315.8,144.67 316.9,145.43 318.2,146.1 C319.5,146.77 321,147.47 322.4,147.9 C323.8,148.33 325.2,148.5 326.6,148.7 C328,148.9 328.57,148.97 330.8,149.1 C333.03,149.23 336.43,149.27 340,149.5 C343.57,149.73 349.53,150.13 352.2,150.5 C354.87,150.87 354.72,151.22 356,151.7 C357.28,152.18 358.68,152.7 359.9,153.4 C361.12,154.1 362.17,155 363.3,155.9 C364.43,156.8 365.65,157.8 366.7,158.8 C367.75,159.8 368.67,160.9 369.6,161.9 C370.53,162.9 371.37,163.9 372.3,164.8 C373.23,165.7 374.15,166.52 375.2,167.3 C376.25,168.08 377.33,168.85 378.6,169.5 C379.87,170.15 381.38,170.77 382.8,171.2 C384.22,171.63 385.73,171.92 387.1,172.1 C388.47,172.28 388.97,172.27 391,172.3 C393.03,172.33 397.92,172.3 399.3,172.3" fill="none" stroke="#8448bf" stroke-width="1.7" stroke-linecap="round" stroke-dasharray="0.01 4.1"/>
<path d="M274.8,223.8 H290.6 V220.9 H296.4 V224.2 H356.4 V215.1 H368.6 V225.7 H420.2 V249.3" fill="none" stroke="#7b2f22" stroke-width="1.7" stroke-linejoin="round"/>
<path d="M274.8,223.6 C278.33,223.5 290.13,223.13 296,223 C301.87,222.87 305.17,222.83 310,222.8 C314.83,222.77 320.67,222.8 325,222.8 C329.33,222.8 333.57,222.93 336,222.8 C338.43,222.67 338.3,222.23 339.6,222 C340.9,221.77 342.4,221.63 343.8,221.4 C345.2,221.17 346.5,220.8 348,220.6 C349.5,220.4 351.3,220.33 352.8,220.2 C354.3,220.07 355.6,219.8 357,219.8 C358.4,219.8 359.8,219.9 361.2,220.2 C362.6,220.5 364,220.87 365.4,221.6 C366.8,222.33 368.3,223.9 369.6,224.6 C370.9,225.3 371.9,225.47 373.2,225.8 C374.5,226.13 376,226.33 377.4,226.6 C378.8,226.87 380.2,227.2 381.6,227.4 C383,227.6 384.47,227.7 385.8,227.8 C387.13,227.9 388.32,227.85 389.6,228 C390.88,228.15 392.2,228.48 393.5,228.7 C394.8,228.92 396.05,229.03 397.4,229.3 C398.75,229.57 400.2,229.93 401.6,230.3 C403,230.67 404.45,231.07 405.8,231.5 C407.15,231.93 408.35,232.35 409.7,232.9 C411.05,233.45 412.6,234.2 413.9,234.8 C415.2,235.4 416.25,235.9 417.5,236.5 C418.75,237.1 420.15,237.75 421.4,238.4 C422.65,239.05 423.7,239.75 425,240.4 C426.3,241.05 427.85,241.72 429.2,242.3 C430.55,242.88 431.8,243.35 433.1,243.9 C434.4,244.45 435.7,245.15 437,245.6 C438.3,246.05 439.48,246.28 440.9,246.6 C442.32,246.92 444.02,247.23 445.5,247.5 C446.98,247.77 449.08,248.08 449.8,248.2" fill="none" stroke="#7b2f22" stroke-width="1.7" stroke-linecap="round" stroke-dasharray="0.01 4.1"/>
<path d="M274.8,301 H291.2 V294.6 H296.8 V303.3 H360.6 V294.6 H369 V303.1 H426.9 V326.4" fill="none" stroke="#1766b0" stroke-width="1.7" stroke-linejoin="round"/>
<path d="M274.8,301.2 C278.33,301.17 290.13,301.03 296,301 C301.87,300.97 305.17,300.97 310,301 C314.83,301.03 321.17,301.13 325,301.2 C328.83,301.27 330.87,301.43 333,301.4 C335.13,301.37 336.3,301.17 337.8,301 C339.3,300.83 340.5,300.6 342,300.4 C343.5,300.2 345.3,300 346.8,299.8 C348.3,299.6 349.6,299.4 351,299.2 C352.4,299 353.8,298.7 355.2,298.6 C356.6,298.5 358,298.5 359.4,298.6 C360.8,298.7 362.2,298.73 363.6,299.2 C365,299.67 366.5,300.7 367.8,301.4 C369.1,302.1 370.1,302.87 371.4,303.4 C372.7,303.93 374.2,304.3 375.6,304.6 C377,304.9 378.4,305.07 379.8,305.2 C381.2,305.33 382.7,305.4 384,305.4 C385.3,305.4 386.23,305.17 387.6,305.2 C388.97,305.23 390.68,305.42 392.2,305.6 C393.72,305.78 395.3,306.08 396.7,306.3 C398.1,306.52 399.3,306.65 400.6,306.9 C401.9,307.15 403.2,307.52 404.5,307.8 C405.8,308.08 407.1,308.27 408.4,308.6 C409.7,308.93 411,309.43 412.3,309.8 C413.6,310.17 414.9,310.42 416.2,310.8 C417.5,311.18 418.8,311.62 420.1,312.1 C421.4,312.58 422.7,313.2 424,313.7 C425.3,314.2 426.6,314.6 427.9,315.1 C429.2,315.6 430.38,316.17 431.8,316.7 C433.22,317.23 434.98,317.82 436.4,318.3 C437.82,318.78 438.9,319.17 440.3,319.6 C441.7,320.03 443.22,320.43 444.8,320.9 C446.38,321.37 448.97,322.15 449.8,322.4" fill="none" stroke="#1766b0" stroke-width="1.7" stroke-linecap="round" stroke-dasharray="0.01 4.1"/>
</g>
<line x1="274.8" y1="95.1" x2="449.8" y2="95.1" stroke="#222222" stroke-width="1.4" />
<line x1="274.8" y1="172.2" x2="449.8" y2="172.2" stroke="#222222" stroke-width="1.4" />
<line x1="274.8" y1="249.3" x2="449.8" y2="249.3" stroke="#222222" stroke-width="1.4" />
<rect x="274.8" y="18" width="175" height="308.4" fill="none" stroke="#222222" stroke-width="1.45"/>
<line x1="271.2" y1="18" x2="274.8" y2="18" stroke="#222222" stroke-width="1.0" />
<text x="267.5" y="21.2" font-size="8.6" text-anchor="end" textLength="13.2" lengthAdjust="spacingAndGlyphs" >4.0</text>
<line x1="271.2" y1="56.55" x2="274.8" y2="56.55" stroke="#222222" stroke-width="1.0" />
<text x="267.5" y="59.75" font-size="8.6" text-anchor="end" textLength="13.2" lengthAdjust="spacingAndGlyphs" >3.5</text>
<line x1="271.2" y1="95.1" x2="274.8" y2="95.1" stroke="#222222" stroke-width="1.0" />
<text x="267.5" y="98.3" font-size="8.6" text-anchor="end" textLength="13.2" lengthAdjust="spacingAndGlyphs" >3.0</text>
<line x1="271.2" y1="133.65" x2="274.8" y2="133.65" stroke="#222222" stroke-width="1.0" />
<text x="267.5" y="136.85" font-size="8.6" text-anchor="end" textLength="13.2" lengthAdjust="spacingAndGlyphs" >2.5</text>
<line x1="271.2" y1="172.2" x2="274.8" y2="172.2" stroke="#222222" stroke-width="1.0" />
<text x="267.5" y="175.4" font-size="8.6" text-anchor="end" textLength="13.2" lengthAdjust="spacingAndGlyphs" >2.0</text>
<line x1="271.2" y1="210.75" x2="274.8" y2="210.75" stroke="#222222" stroke-width="1.0" />
<text x="267.5" y="213.95" font-size="8.6" text-anchor="end" textLength="13.2" lengthAdjust="spacingAndGlyphs" >1.5</text>
<line x1="271.2" y1="249.3" x2="274.8" y2="249.3" stroke="#222222" stroke-width="1.0" />
<text x="267.5" y="252.5" font-size="8.6" text-anchor="end" textLength="13.2" lengthAdjust="spacingAndGlyphs" >1.0</text>
<line x1="271.2" y1="287.85" x2="274.8" y2="287.85" stroke="#222222" stroke-width="1.0" />
<text x="267.5" y="291.05" font-size="8.6" text-anchor="end" textLength="13.2" lengthAdjust="spacingAndGlyphs" >0.5</text>
<line x1="271.2" y1="326.4" x2="274.8" y2="326.4" stroke="#222222" stroke-width="1.0" />
<text x="267.5" y="329.6" font-size="8.6" text-anchor="end" textLength="13.2" lengthAdjust="spacingAndGlyphs" >0.0</text>
<line x1="290.7" y1="326.4" x2="290.7" y2="330" stroke="#222222" stroke-width="1.0" />
<text x="290.7" y="341" font-size="8.6" text-anchor="middle" textLength="4.8" lengthAdjust="spacingAndGlyphs" >0</text>
<line x1="322.5" y1="326.4" x2="322.5" y2="330" stroke="#222222" stroke-width="1.0" />
<text x="322.5" y="341" font-size="8.6" text-anchor="middle" textLength="9.6" lengthAdjust="spacingAndGlyphs" >10</text>
<line x1="354.3" y1="326.4" x2="354.3" y2="330" stroke="#222222" stroke-width="1.0" />
<text x="354.3" y="341" font-size="8.6" text-anchor="middle" textLength="9.6" lengthAdjust="spacingAndGlyphs" >20</text>
<line x1="386.1" y1="326.4" x2="386.1" y2="330" stroke="#222222" stroke-width="1.0" />
<text x="386.1" y="341" font-size="8.6" text-anchor="middle" textLength="9.6" lengthAdjust="spacingAndGlyphs" >30</text>
<line x1="417.9" y1="326.4" x2="417.9" y2="330" stroke="#222222" stroke-width="1.0" />
<text x="417.9" y="341" font-size="8.6" text-anchor="middle" textLength="9.6" lengthAdjust="spacingAndGlyphs" >40</text>
<line x1="449.7" y1="326.4" x2="449.7" y2="330" stroke="#222222" stroke-width="1.0" />
<text x="449.7" y="341" font-size="8.6" text-anchor="middle" textLength="9.6" lengthAdjust="spacingAndGlyphs" >50</text>
<text x="362.5" y="349.6" font-size="8.6" text-anchor="middle" textLength="19.8" lengthAdjust="spacingAndGlyphs" >z (Å)</text>
<text transform="translate(250.9,170) rotate(-90)" x="0" y="0" font-size="8.6" text-anchor="middle" fill="#1a1a1a" textLength="134.7" lengthAdjust="spacingAndGlyphs">Electron Density Profile(e<tspan font-size="6" dy="-3">−</tspan><tspan dy="3">/Å</tspan><tspan font-size="6" dy="-3">3</tspan><tspan dy="3">)</tspan></text>
<text x="278.6" y="29.6" font-size="9.4" text-anchor="start" font-weight="bold" textLength="13.4" lengthAdjust="spacingAndGlyphs" >(d)</text>
<text x="446.9" y="30.5" font-size="10.5" text-anchor="end" font-weight="bold" textLength="61.6" lengthAdjust="spacingAndGlyphs" >Monolayer</text>
<text x="446.9" y="42.2" font-size="10.5" text-anchor="end" font-weight="bold" textLength="15.4" lengthAdjust="spacingAndGlyphs" >Nd</text>
<text x="446.9" y="107.6" font-size="10.5" text-anchor="end" font-weight="bold" textLength="61.6" lengthAdjust="spacingAndGlyphs" >Monolayer</text>
<text x="446.9" y="119.3" font-size="10.5" text-anchor="end" font-weight="bold" textLength="15.4" lengthAdjust="spacingAndGlyphs" >Gd</text>
<text x="446.9" y="184.7" font-size="10.5" text-anchor="end" font-weight="bold" textLength="40.6" lengthAdjust="spacingAndGlyphs" >Bilayer</text>
<text x="446.9" y="196.4" font-size="10.5" text-anchor="end" font-weight="bold" textLength="14.7" lengthAdjust="spacingAndGlyphs" >Tb</text>
<text x="446.9" y="261.8" font-size="10.5" text-anchor="end" font-weight="bold" textLength="40.6" lengthAdjust="spacingAndGlyphs" >Bilayer</text>
<text x="446.9" y="273.5" font-size="10.5" text-anchor="end" font-weight="bold" textLength="11.6" lengthAdjust="spacingAndGlyphs" >Er</text>
<text x="303.8" y="48.7" font-size="9.2" text-anchor="start" textLength="22" lengthAdjust="spacingAndGlyphs" >Head</text>
<text x="328.5" y="67.6" font-size="9.2" text-anchor="start" textLength="13" lengthAdjust="spacingAndGlyphs" >Tail</text>
<text x="303.8" y="123.5" font-size="9.2" text-anchor="start" textLength="22" lengthAdjust="spacingAndGlyphs" >Head</text>
<text x="328" y="144.9" font-size="9.2" text-anchor="start" textLength="13" lengthAdjust="spacingAndGlyphs" >Tail</text>
<text x="299.2" y="184.6" font-size="9.2" text-anchor="start" textLength="22" lengthAdjust="spacingAndGlyphs" >Head</text>
<text x="319.5" y="221.5" font-size="9.2" text-anchor="start" textLength="12.8" lengthAdjust="spacingAndGlyphs" >Tail</text>
<text x="351.6" y="212" font-size="9.2" text-anchor="start" textLength="22" lengthAdjust="spacingAndGlyphs" >Head</text>
<text x="388.4" y="221.9" font-size="9.2" text-anchor="start" textLength="12.9" lengthAdjust="spacingAndGlyphs" >Tail</text>
<text x="299.2" y="261.6" font-size="9.2" text-anchor="start" textLength="22" lengthAdjust="spacingAndGlyphs" >Head</text>
<text x="321.8" y="299" font-size="9.2" text-anchor="start" textLength="13" lengthAdjust="spacingAndGlyphs" >Tail</text>
<text x="354" y="291" font-size="9.2" text-anchor="start" textLength="22" lengthAdjust="spacingAndGlyphs" >Head</text>
<text x="391.8" y="300.7" font-size="9.2" text-anchor="start" textLength="12.8" lengthAdjust="spacingAndGlyphs" >Tail</text>
<path d="M297,181.5 H293.8 V210.8" fill="none" stroke="#1a1a1a" stroke-width="1.3"/>
<path d="M297,258.5 H293.8 V287.8" fill="none" stroke="#1a1a1a" stroke-width="1.3"/>
<rect x="251.0" y="495.9" width="92.0" height="14.6" fill="#e7e7fc"/>
<circle cx="256.45" cy="447.65" r="2.6" fill="#2e2e2e"/>
<circle cx="271.05" cy="447.65" r="2.6" fill="#2e2e2e"/>
<circle cx="261.35" cy="450.35" r="2.6" fill="#2e2e2e"/>
<circle cx="266.15" cy="450.35" r="2.6" fill="#2e2e2e"/>
<circle cx="256.45" cy="453.05" r="2.6" fill="#2e2e2e"/>
<circle cx="271.05" cy="453.05" r="2.6" fill="#2e2e2e"/>
<circle cx="261.35" cy="455.75" r="2.6" fill="#2e2e2e"/>
<circle cx="266.15" cy="455.75" r="2.6" fill="#2e2e2e"/>
<circle cx="256.45" cy="458.45" r="2.6" fill="#2e2e2e"/>
<circle cx="271.05" cy="458.45" r="2.6" fill="#2e2e2e"/>
<circle cx="261.35" cy="461.15" r="2.6" fill="#2e2e2e"/>
<circle cx="266.15" cy="461.15" r="2.6" fill="#2e2e2e"/>
<circle cx="256.45" cy="463.85" r="2.6" fill="#2e2e2e"/>
<circle cx="271.05" cy="463.85" r="2.6" fill="#2e2e2e"/>
<circle cx="261.35" cy="466.55" r="2.6" fill="#2e2e2e"/>
<circle cx="266.15" cy="466.55" r="2.6" fill="#2e2e2e"/>
<circle cx="256.45" cy="469.25" r="2.6" fill="#2e2e2e"/>
<circle cx="271.05" cy="469.25" r="2.6" fill="#2e2e2e"/>
<circle cx="261.35" cy="471.95" r="2.6" fill="#2e2e2e"/>
<circle cx="266.15" cy="471.95" r="2.6" fill="#2e2e2e"/>
<circle cx="256.45" cy="474.65" r="2.6" fill="#2e2e2e"/>
<circle cx="271.05" cy="474.65" r="2.6" fill="#2e2e2e"/>
<circle cx="261.35" cy="477.35" r="2.6" fill="#2e2e2e"/>
<circle cx="266.15" cy="477.35" r="2.6" fill="#2e2e2e"/>
<circle cx="256.45" cy="480.05" r="2.6" fill="#2e2e2e"/>
<circle cx="271.05" cy="480.05" r="2.6" fill="#2e2e2e"/>
<circle cx="261.35" cy="482.75" r="2.6" fill="#2e2e2e"/>
<circle cx="266.15" cy="482.75" r="2.6" fill="#2e2e2e"/>
<circle cx="256.45" cy="485.45" r="2.6" fill="#2e2e2e"/>
<circle cx="271.05" cy="485.45" r="2.6" fill="#2e2e2e"/>
<circle cx="261.35" cy="488.15" r="2.6" fill="#2e2e2e"/>
<circle cx="266.15" cy="488.15" r="2.6" fill="#2e2e2e"/>
<circle cx="256.45" cy="490.85" r="2.6" fill="#2e2e2e"/>
<circle cx="271.05" cy="490.85" r="2.6" fill="#2e2e2e"/>
<circle cx="256.8" cy="447.1" r="2.35" fill="url(#gs)"/>
<circle cx="271.4" cy="447.1" r="2.35" fill="url(#gs)"/>
<circle cx="261.7" cy="449.8" r="2.35" fill="url(#gs)"/>
<circle cx="266.5" cy="449.8" r="2.35" fill="url(#gs)"/>
<circle cx="256.8" cy="452.5" r="2.35" fill="url(#gs)"/>
<circle cx="271.4" cy="452.5" r="2.35" fill="url(#gs)"/>
<circle cx="261.7" cy="455.2" r="2.35" fill="url(#gs)"/>
<circle cx="266.5" cy="455.2" r="2.35" fill="url(#gs)"/>
<circle cx="256.8" cy="457.9" r="2.35" fill="url(#gs)"/>
<circle cx="271.4" cy="457.9" r="2.35" fill="url(#gs)"/>
<circle cx="261.7" cy="460.6" r="2.35" fill="url(#gs)"/>
<circle cx="266.5" cy="460.6" r="2.35" fill="url(#gs)"/>
<circle cx="256.8" cy="463.3" r="2.35" fill="url(#gs)"/>
<circle cx="271.4" cy="463.3" r="2.35" fill="url(#gs)"/>
<circle cx="261.7" cy="466" r="2.35" fill="url(#gs)"/>
<circle cx="266.5" cy="466" r="2.35" fill="url(#gs)"/>
<circle cx="256.8" cy="468.7" r="2.35" fill="url(#gs)"/>
<circle cx="271.4" cy="468.7" r="2.35" fill="url(#gs)"/>
<circle cx="261.7" cy="471.4" r="2.35" fill="url(#gs)"/>
<circle cx="266.5" cy="471.4" r="2.35" fill="url(#gs)"/>
<circle cx="256.8" cy="474.1" r="2.35" fill="url(#gs)"/>
<circle cx="271.4" cy="474.1" r="2.35" fill="url(#gs)"/>
<circle cx="261.7" cy="476.8" r="2.35" fill="url(#gs)"/>
<circle cx="266.5" cy="476.8" r="2.35" fill="url(#gs)"/>
<circle cx="256.8" cy="479.5" r="2.35" fill="url(#gs)"/>
<circle cx="271.4" cy="479.5" r="2.35" fill="url(#gs)"/>
<circle cx="261.7" cy="482.2" r="2.35" fill="url(#gs)"/>
<circle cx="266.5" cy="482.2" r="2.35" fill="url(#gs)"/>
<circle cx="256.8" cy="484.9" r="2.35" fill="url(#gs)"/>
<circle cx="271.4" cy="484.9" r="2.35" fill="url(#gs)"/>
<circle cx="261.7" cy="487.6" r="2.35" fill="url(#gs)"/>
<circle cx="266.5" cy="487.6" r="2.35" fill="url(#gs)"/>
<circle cx="256.8" cy="490.3" r="2.35" fill="url(#gs)"/>
<circle cx="271.4" cy="490.3" r="2.35" fill="url(#gs)"/>
<circle cx="260.6" cy="494.5" r="1.8" fill="url(#gp)" stroke="none" stroke-width="0.45"/>
<circle cx="259" cy="494.3" r="1.1" fill="url(#gr)" stroke="none" stroke-width="0.45"/>
<circle cx="267.8" cy="494.7" r="1.1" fill="url(#gr)" stroke="none" stroke-width="0.45"/>
<circle cx="263.6" cy="491.3" r="2.8" fill="url(#gr)" stroke="none" stroke-width="0.45"/>
<circle cx="263.4" cy="497.2" r="2.8" fill="url(#gr)" stroke="none" stroke-width="0.45"/>
<circle cx="277.75" cy="447.65" r="2.6" fill="#2e2e2e"/>
<circle cx="292.35" cy="447.65" r="2.6" fill="#2e2e2e"/>
<circle cx="282.65" cy="450.35" r="2.6" fill="#2e2e2e"/>
<circle cx="287.45" cy="450.35" r="2.6" fill="#2e2e2e"/>
<circle cx="277.75" cy="453.05" r="2.6" fill="#2e2e2e"/>
<circle cx="292.35" cy="453.05" r="2.6" fill="#2e2e2e"/>
<circle cx="282.65" cy="455.75" r="2.6" fill="#2e2e2e"/>
<circle cx="287.45" cy="455.75" r="2.6" fill="#2e2e2e"/>
<circle cx="277.75" cy="458.45" r="2.6" fill="#2e2e2e"/>
<circle cx="292.35" cy="458.45" r="2.6" fill="#2e2e2e"/>
<circle cx="282.65" cy="461.15" r="2.6" fill="#2e2e2e"/>
<circle cx="287.45" cy="461.15" r="2.6" fill="#2e2e2e"/>
<circle cx="277.75" cy="463.85" r="2.6" fill="#2e2e2e"/>
<circle cx="292.35" cy="463.85" r="2.6" fill="#2e2e2e"/>
<circle cx="282.65" cy="466.55" r="2.6" fill="#2e2e2e"/>
<circle cx="287.45" cy="466.55" r="2.6" fill="#2e2e2e"/>
<circle cx="277.75" cy="469.25" r="2.6" fill="#2e2e2e"/>
<circle cx="292.35" cy="469.25" r="2.6" fill="#2e2e2e"/>
<circle cx="282.65" cy="471.95" r="2.6" fill="#2e2e2e"/>
<circle cx="287.45" cy="471.95" r="2.6" fill="#2e2e2e"/>
<circle cx="277.75" cy="474.65" r="2.6" fill="#2e2e2e"/>
<circle cx="292.35" cy="474.65" r="2.6" fill="#2e2e2e"/>
<circle cx="282.65" cy="477.35" r="2.6" fill="#2e2e2e"/>
<circle cx="287.45" cy="477.35" r="2.6" fill="#2e2e2e"/>
<circle cx="277.75" cy="480.05" r="2.6" fill="#2e2e2e"/>
<circle cx="292.35" cy="480.05" r="2.6" fill="#2e2e2e"/>
<circle cx="282.65" cy="482.75" r="2.6" fill="#2e2e2e"/>
<circle cx="287.45" cy="482.75" r="2.6" fill="#2e2e2e"/>
<circle cx="277.75" cy="485.45" r="2.6" fill="#2e2e2e"/>
<circle cx="292.35" cy="485.45" r="2.6" fill="#2e2e2e"/>
<circle cx="282.65" cy="488.15" r="2.6" fill="#2e2e2e"/>
<circle cx="287.45" cy="488.15" r="2.6" fill="#2e2e2e"/>
<circle cx="277.75" cy="490.85" r="2.6" fill="#2e2e2e"/>
<circle cx="292.35" cy="490.85" r="2.6" fill="#2e2e2e"/>
<circle cx="278.1" cy="447.1" r="2.35" fill="url(#gs)"/>
<circle cx="292.7" cy="447.1" r="2.35" fill="url(#gs)"/>
<circle cx="283" cy="449.8" r="2.35" fill="url(#gs)"/>
<circle cx="287.8" cy="449.8" r="2.35" fill="url(#gs)"/>
<circle cx="278.1" cy="452.5" r="2.35" fill="url(#gs)"/>
<circle cx="292.7" cy="452.5" r="2.35" fill="url(#gs)"/>
<circle cx="283" cy="455.2" r="2.35" fill="url(#gs)"/>
<circle cx="287.8" cy="455.2" r="2.35" fill="url(#gs)"/>
<circle cx="278.1" cy="457.9" r="2.35" fill="url(#gs)"/>
<circle cx="292.7" cy="457.9" r="2.35" fill="url(#gs)"/>
<circle cx="283" cy="460.6" r="2.35" fill="url(#gs)"/>
<circle cx="287.8" cy="460.6" r="2.35" fill="url(#gs)"/>
<circle cx="278.1" cy="463.3" r="2.35" fill="url(#gs)"/>
<circle cx="292.7" cy="463.3" r="2.35" fill="url(#gs)"/>
<circle cx="283" cy="466" r="2.35" fill="url(#gs)"/>
<circle cx="287.8" cy="466" r="2.35" fill="url(#gs)"/>
<circle cx="278.1" cy="468.7" r="2.35" fill="url(#gs)"/>
<circle cx="292.7" cy="468.7" r="2.35" fill="url(#gs)"/>
<circle cx="283" cy="471.4" r="2.35" fill="url(#gs)"/>
<circle cx="287.8" cy="471.4" r="2.35" fill="url(#gs)"/>
<circle cx="278.1" cy="474.1" r="2.35" fill="url(#gs)"/>
<circle cx="292.7" cy="474.1" r="2.35" fill="url(#gs)"/>
<circle cx="283" cy="476.8" r="2.35" fill="url(#gs)"/>
<circle cx="287.8" cy="476.8" r="2.35" fill="url(#gs)"/>
<circle cx="278.1" cy="479.5" r="2.35" fill="url(#gs)"/>
<circle cx="292.7" cy="479.5" r="2.35" fill="url(#gs)"/>
<circle cx="283" cy="482.2" r="2.35" fill="url(#gs)"/>
<circle cx="287.8" cy="482.2" r="2.35" fill="url(#gs)"/>
<circle cx="278.1" cy="484.9" r="2.35" fill="url(#gs)"/>
<circle cx="292.7" cy="484.9" r="2.35" fill="url(#gs)"/>
<circle cx="283" cy="487.6" r="2.35" fill="url(#gs)"/>
<circle cx="287.8" cy="487.6" r="2.35" fill="url(#gs)"/>
<circle cx="278.1" cy="490.3" r="2.35" fill="url(#gs)"/>
<circle cx="292.7" cy="490.3" r="2.35" fill="url(#gs)"/>
<circle cx="281.9" cy="494.5" r="1.8" fill="url(#gp)" stroke="none" stroke-width="0.45"/>
<circle cx="280.3" cy="494.3" r="1.1" fill="url(#gr)" stroke="none" stroke-width="0.45"/>
<circle cx="289.1" cy="494.7" r="1.1" fill="url(#gr)" stroke="none" stroke-width="0.45"/>
<circle cx="284.9" cy="491.3" r="2.8" fill="url(#gr)" stroke="none" stroke-width="0.45"/>
<circle cx="284.7" cy="497.2" r="2.8" fill="url(#gr)" stroke="none" stroke-width="0.45"/>
<circle cx="298.95" cy="447.65" r="2.6" fill="#2e2e2e"/>
<circle cx="313.55" cy="447.65" r="2.6" fill="#2e2e2e"/>
<circle cx="303.85" cy="450.35" r="2.6" fill="#2e2e2e"/>
<circle cx="308.65" cy="450.35" r="2.6" fill="#2e2e2e"/>
<circle cx="298.95" cy="453.05" r="2.6" fill="#2e2e2e"/>
<circle cx="313.55" cy="453.05" r="2.6" fill="#2e2e2e"/>
<circle cx="303.85" cy="455.75" r="2.6" fill="#2e2e2e"/>
<circle cx="308.65" cy="455.75" r="2.6" fill="#2e2e2e"/>
<circle cx="298.95" cy="458.45" r="2.6" fill="#2e2e2e"/>
<circle cx="313.55" cy="458.45" r="2.6" fill="#2e2e2e"/>
<circle cx="303.85" cy="461.15" r="2.6" fill="#2e2e2e"/>
<circle cx="308.65" cy="461.15" r="2.6" fill="#2e2e2e"/>
<circle cx="298.95" cy="463.85" r="2.6" fill="#2e2e2e"/>
<circle cx="313.55" cy="463.85" r="2.6" fill="#2e2e2e"/>
<circle cx="303.85" cy="466.55" r="2.6" fill="#2e2e2e"/>
<circle cx="308.65" cy="466.55" r="2.6" fill="#2e2e2e"/>
<circle cx="298.95" cy="469.25" r="2.6" fill="#2e2e2e"/>
<circle cx="313.55" cy="469.25" r="2.6" fill="#2e2e2e"/>
<circle cx="303.85" cy="471.95" r="2.6" fill="#2e2e2e"/>
<circle cx="308.65" cy="471.95" r="2.6" fill="#2e2e2e"/>
<circle cx="298.95" cy="474.65" r="2.6" fill="#2e2e2e"/>
<circle cx="313.55" cy="474.65" r="2.6" fill="#2e2e2e"/>
<circle cx="303.85" cy="477.35" r="2.6" fill="#2e2e2e"/>
<circle cx="308.65" cy="477.35" r="2.6" fill="#2e2e2e"/>
<circle cx="298.95" cy="480.05" r="2.6" fill="#2e2e2e"/>
<circle cx="313.55" cy="480.05" r="2.6" fill="#2e2e2e"/>
<circle cx="303.85" cy="482.75" r="2.6" fill="#2e2e2e"/>
<circle cx="308.65" cy="482.75" r="2.6" fill="#2e2e2e"/>
<circle cx="298.95" cy="485.45" r="2.6" fill="#2e2e2e"/>
<circle cx="313.55" cy="485.45" r="2.6" fill="#2e2e2e"/>
<circle cx="303.85" cy="488.15" r="2.6" fill="#2e2e2e"/>
<circle cx="308.65" cy="488.15" r="2.6" fill="#2e2e2e"/>
<circle cx="298.95" cy="490.85" r="2.6" fill="#2e2e2e"/>
<circle cx="313.55" cy="490.85" r="2.6" fill="#2e2e2e"/>
<circle cx="299.3" cy="447.1" r="2.35" fill="url(#gs)"/>
<circle cx="313.9" cy="447.1" r="2.35" fill="url(#gs)"/>
<circle cx="304.2" cy="449.8" r="2.35" fill="url(#gs)"/>
<circle cx="309" cy="449.8" r="2.35" fill="url(#gs)"/>
<circle cx="299.3" cy="452.5" r="2.35" fill="url(#gs)"/>
<circle cx="313.9" cy="452.5" r="2.35" fill="url(#gs)"/>
<circle cx="304.2" cy="455.2" r="2.35" fill="url(#gs)"/>
<circle cx="309" cy="455.2" r="2.35" fill="url(#gs)"/>
<circle cx="299.3" cy="457.9" r="2.35" fill="url(#gs)"/>
<circle cx="313.9" cy="457.9" r="2.35" fill="url(#gs)"/>
<circle cx="304.2" cy="460.6" r="2.35" fill="url(#gs)"/>
<circle cx="309" cy="460.6" r="2.35" fill="url(#gs)"/>
<circle cx="299.3" cy="463.3" r="2.35" fill="url(#gs)"/>
<circle cx="313.9" cy="463.3" r="2.35" fill="url(#gs)"/>
<circle cx="304.2" cy="466" r="2.35" fill="url(#gs)"/>
<circle cx="309" cy="466" r="2.35" fill="url(#gs)"/>
<circle cx="299.3" cy="468.7" r="2.35" fill="url(#gs)"/>
<circle cx="313.9" cy="468.7" r="2.35" fill="url(#gs)"/>
<circle cx="304.2" cy="471.4" r="2.35" fill="url(#gs)"/>
<circle cx="309" cy="471.4" r="2.35" fill="url(#gs)"/>
<circle cx="299.3" cy="474.1" r="2.35" fill="url(#gs)"/>
<circle cx="313.9" cy="474.1" r="2.35" fill="url(#gs)"/>
<circle cx="304.2" cy="476.8" r="2.35" fill="url(#gs)"/>
<circle cx="309" cy="476.8" r="2.35" fill="url(#gs)"/>
<circle cx="299.3" cy="479.5" r="2.35" fill="url(#gs)"/>
<circle cx="313.9" cy="479.5" r="2.35" fill="url(#gs)"/>
<circle cx="304.2" cy="482.2" r="2.35" fill="url(#gs)"/>
<circle cx="309" cy="482.2" r="2.35" fill="url(#gs)"/>
<circle cx="299.3" cy="484.9" r="2.35" fill="url(#gs)"/>
<circle cx="313.9" cy="484.9" r="2.35" fill="url(#gs)"/>
<circle cx="304.2" cy="487.6" r="2.35" fill="url(#gs)"/>
<circle cx="309" cy="487.6" r="2.35" fill="url(#gs)"/>
<circle cx="299.3" cy="490.3" r="2.35" fill="url(#gs)"/>
<circle cx="313.9" cy="490.3" r="2.35" fill="url(#gs)"/>
<circle cx="303.1" cy="494.5" r="1.8" fill="url(#gp)" stroke="none" stroke-width="0.45"/>
<circle cx="301.5" cy="494.3" r="1.1" fill="url(#gr)" stroke="none" stroke-width="0.45"/>
<circle cx="310.3" cy="494.7" r="1.1" fill="url(#gr)" stroke="none" stroke-width="0.45"/>
<circle cx="306.1" cy="491.3" r="2.8" fill="url(#gr)" stroke="none" stroke-width="0.45"/>
<circle cx="305.9" cy="497.2" r="2.8" fill="url(#gr)" stroke="none" stroke-width="0.45"/>
<circle cx="320.15" cy="447.65" r="2.6" fill="#2e2e2e"/>
<circle cx="334.75" cy="447.65" r="2.6" fill="#2e2e2e"/>
<circle cx="325.05" cy="450.35" r="2.6" fill="#2e2e2e"/>
<circle cx="329.85" cy="450.35" r="2.6" fill="#2e2e2e"/>
<circle cx="320.15" cy="453.05" r="2.6" fill="#2e2e2e"/>
<circle cx="334.75" cy="453.05" r="2.6" fill="#2e2e2e"/>
<circle cx="325.05" cy="455.75" r="2.6" fill="#2e2e2e"/>
<circle cx="329.85" cy="455.75" r="2.6" fill="#2e2e2e"/>
<circle cx="320.15" cy="458.45" r="2.6" fill="#2e2e2e"/>
<circle cx="334.75" cy="458.45" r="2.6" fill="#2e2e2e"/>
<circle cx="325.05" cy="461.15" r="2.6" fill="#2e2e2e"/>
<circle cx="329.85" cy="461.15" r="2.6" fill="#2e2e2e"/>
<circle cx="320.15" cy="463.85" r="2.6" fill="#2e2e2e"/>
<circle cx="334.75" cy="463.85" r="2.6" fill="#2e2e2e"/>
<circle cx="325.05" cy="466.55" r="2.6" fill="#2e2e2e"/>
<circle cx="329.85" cy="466.55" r="2.6" fill="#2e2e2e"/>
<circle cx="320.15" cy="469.25" r="2.6" fill="#2e2e2e"/>
<circle cx="334.75" cy="469.25" r="2.6" fill="#2e2e2e"/>
<circle cx="325.05" cy="471.95" r="2.6" fill="#2e2e2e"/>
<circle cx="329.85" cy="471.95" r="2.6" fill="#2e2e2e"/>
<circle cx="320.15" cy="474.65" r="2.6" fill="#2e2e2e"/>
<circle cx="334.75" cy="474.65" r="2.6" fill="#2e2e2e"/>
<circle cx="325.05" cy="477.35" r="2.6" fill="#2e2e2e"/>
<circle cx="329.85" cy="477.35" r="2.6" fill="#2e2e2e"/>
<circle cx="320.15" cy="480.05" r="2.6" fill="#2e2e2e"/>
<circle cx="334.75" cy="480.05" r="2.6" fill="#2e2e2e"/>
<circle cx="325.05" cy="482.75" r="2.6" fill="#2e2e2e"/>
<circle cx="329.85" cy="482.75" r="2.6" fill="#2e2e2e"/>
<circle cx="320.15" cy="485.45" r="2.6" fill="#2e2e2e"/>
<circle cx="334.75" cy="485.45" r="2.6" fill="#2e2e2e"/>
<circle cx="325.05" cy="488.15" r="2.6" fill="#2e2e2e"/>
<circle cx="329.85" cy="488.15" r="2.6" fill="#2e2e2e"/>
<circle cx="320.15" cy="490.85" r="2.6" fill="#2e2e2e"/>
<circle cx="334.75" cy="490.85" r="2.6" fill="#2e2e2e"/>
<circle cx="320.5" cy="447.1" r="2.35" fill="url(#gs)"/>
<circle cx="335.1" cy="447.1" r="2.35" fill="url(#gs)"/>
<circle cx="325.4" cy="449.8" r="2.35" fill="url(#gs)"/>
<circle cx="330.2" cy="449.8" r="2.35" fill="url(#gs)"/>
<circle cx="320.5" cy="452.5" r="2.35" fill="url(#gs)"/>
<circle cx="335.1" cy="452.5" r="2.35" fill="url(#gs)"/>
<circle cx="325.4" cy="455.2" r="2.35" fill="url(#gs)"/>
<circle cx="330.2" cy="455.2" r="2.35" fill="url(#gs)"/>
<circle cx="320.5" cy="457.9" r="2.35" fill="url(#gs)"/>
<circle cx="335.1" cy="457.9" r="2.35" fill="url(#gs)"/>
<circle cx="325.4" cy="460.6" r="2.35" fill="url(#gs)"/>
<circle cx="330.2" cy="460.6" r="2.35" fill="url(#gs)"/>
<circle cx="320.5" cy="463.3" r="2.35" fill="url(#gs)"/>
<circle cx="335.1" cy="463.3" r="2.35" fill="url(#gs)"/>
<circle cx="325.4" cy="466" r="2.35" fill="url(#gs)"/>
<circle cx="330.2" cy="466" r="2.35" fill="url(#gs)"/>
<circle cx="320.5" cy="468.7" r="2.35" fill="url(#gs)"/>
<circle cx="335.1" cy="468.7" r="2.35" fill="url(#gs)"/>
<circle cx="325.4" cy="471.4" r="2.35" fill="url(#gs)"/>
<circle cx="330.2" cy="471.4" r="2.35" fill="url(#gs)"/>
<circle cx="320.5" cy="474.1" r="2.35" fill="url(#gs)"/>
<circle cx="335.1" cy="474.1" r="2.35" fill="url(#gs)"/>
<circle cx="325.4" cy="476.8" r="2.35" fill="url(#gs)"/>
<circle cx="330.2" cy="476.8" r="2.35" fill="url(#gs)"/>
<circle cx="320.5" cy="479.5" r="2.35" fill="url(#gs)"/>
<circle cx="335.1" cy="479.5" r="2.35" fill="url(#gs)"/>
<circle cx="325.4" cy="482.2" r="2.35" fill="url(#gs)"/>
<circle cx="330.2" cy="482.2" r="2.35" fill="url(#gs)"/>
<circle cx="320.5" cy="484.9" r="2.35" fill="url(#gs)"/>
<circle cx="335.1" cy="484.9" r="2.35" fill="url(#gs)"/>
<circle cx="325.4" cy="487.6" r="2.35" fill="url(#gs)"/>
<circle cx="330.2" cy="487.6" r="2.35" fill="url(#gs)"/>
<circle cx="320.5" cy="490.3" r="2.35" fill="url(#gs)"/>
<circle cx="335.1" cy="490.3" r="2.35" fill="url(#gs)"/>
<circle cx="324.3" cy="494.5" r="1.8" fill="url(#gp)" stroke="none" stroke-width="0.45"/>
<circle cx="322.7" cy="494.3" r="1.1" fill="url(#gr)" stroke="none" stroke-width="0.45"/>
<circle cx="331.5" cy="494.7" r="1.1" fill="url(#gr)" stroke="none" stroke-width="0.45"/>
<circle cx="327.3" cy="491.3" r="2.8" fill="url(#gr)" stroke="none" stroke-width="0.45"/>
<circle cx="327.1" cy="497.2" r="2.8" fill="url(#gr)" stroke="none" stroke-width="0.45"/>
<circle cx="273.1" cy="504.1" r="4.4" fill="#ffffff" opacity="0.8"/>
<circle cx="273.1" cy="504.1" r="3.8" fill="url(#gg1)" stroke="none" stroke-width="0.45"/>
<circle cx="316.4" cy="504.1" r="4.4" fill="#ffffff" opacity="0.8"/>
<circle cx="316.4" cy="504.1" r="3.8" fill="url(#gg1)" stroke="none" stroke-width="0.45"/>
<rect x="250.2" y="357.6" width="93.6" height="154.4" fill="none" stroke="#222222" stroke-width="1.45"/>
<text x="252.3" y="367.8" font-size="9" text-anchor="start" font-weight="bold" textLength="12.5" lengthAdjust="spacingAndGlyphs" >(e)</text>
<text x="340.9" y="367.6" font-size="9" text-anchor="end" font-weight="bold" textLength="49" lengthAdjust="spacingAndGlyphs" >Monolayer</text>
<rect x="357.2" y="496.1" width="91.5" height="14.4" fill="#e7e7fc"/>
<circle cx="366.45" cy="383.65" r="2.6" fill="#2e2e2e"/>
<circle cx="371.25" cy="383.65" r="2.6" fill="#2e2e2e"/>
<circle cx="361.55" cy="386.35" r="2.6" fill="#2e2e2e"/>
<circle cx="376.15" cy="386.35" r="2.6" fill="#2e2e2e"/>
<circle cx="366.45" cy="389.05" r="2.6" fill="#2e2e2e"/>
<circle cx="371.25" cy="389.05" r="2.6" fill="#2e2e2e"/>
<circle cx="361.55" cy="391.75" r="2.6" fill="#2e2e2e"/>
<circle cx="376.15" cy="391.75" r="2.6" fill="#2e2e2e"/>
<circle cx="366.45" cy="394.45" r="2.6" fill="#2e2e2e"/>
<circle cx="371.25" cy="394.45" r="2.6" fill="#2e2e2e"/>
<circle cx="361.55" cy="397.15" r="2.6" fill="#2e2e2e"/>
<circle cx="376.15" cy="397.15" r="2.6" fill="#2e2e2e"/>
<circle cx="366.45" cy="399.85" r="2.6" fill="#2e2e2e"/>
<circle cx="371.25" cy="399.85" r="2.6" fill="#2e2e2e"/>
<circle cx="361.55" cy="402.55" r="2.6" fill="#2e2e2e"/>
<circle cx="376.15" cy="402.55" r="2.6" fill="#2e2e2e"/>
<circle cx="366.45" cy="405.25" r="2.6" fill="#2e2e2e"/>
<circle cx="371.25" cy="405.25" r="2.6" fill="#2e2e2e"/>
<circle cx="361.55" cy="407.95" r="2.6" fill="#2e2e2e"/>
<circle cx="376.15" cy="407.95" r="2.6" fill="#2e2e2e"/>
<circle cx="366.45" cy="410.65" r="2.6" fill="#2e2e2e"/>
<circle cx="371.25" cy="410.65" r="2.6" fill="#2e2e2e"/>
<circle cx="361.55" cy="413.35" r="2.6" fill="#2e2e2e"/>
<circle cx="376.15" cy="413.35" r="2.6" fill="#2e2e2e"/>
<circle cx="366.45" cy="416.05" r="2.6" fill="#2e2e2e"/>
<circle cx="371.25" cy="416.05" r="2.6" fill="#2e2e2e"/>
<circle cx="361.55" cy="418.75" r="2.6" fill="#2e2e2e"/>
<circle cx="376.15" cy="418.75" r="2.6" fill="#2e2e2e"/>
<circle cx="366.45" cy="421.45" r="2.6" fill="#2e2e2e"/>
<circle cx="371.25" cy="421.45" r="2.6" fill="#2e2e2e"/>
<circle cx="361.55" cy="424.15" r="2.6" fill="#2e2e2e"/>
<circle cx="376.15" cy="424.15" r="2.6" fill="#2e2e2e"/>
<circle cx="366.8" cy="383.1" r="2.35" fill="url(#gs)"/>
<circle cx="371.6" cy="383.1" r="2.35" fill="url(#gs)"/>
<circle cx="361.9" cy="385.8" r="2.35" fill="url(#gs)"/>
<circle cx="376.5" cy="385.8" r="2.35" fill="url(#gs)"/>
<circle cx="366.8" cy="388.5" r="2.35" fill="url(#gs)"/>
<circle cx="371.6" cy="388.5" r="2.35" fill="url(#gs)"/>
<circle cx="361.9" cy="391.2" r="2.35" fill="url(#gs)"/>
<circle cx="376.5" cy="391.2" r="2.35" fill="url(#gs)"/>
<circle cx="366.8" cy="393.9" r="2.35" fill="url(#gs)"/>
<circle cx="371.6" cy="393.9" r="2.35" fill="url(#gs)"/>
<circle cx="361.9" cy="396.6" r="2.35" fill="url(#gs)"/>
<circle cx="376.5" cy="396.6" r="2.35" fill="url(#gs)"/>
<circle cx="366.8" cy="399.3" r="2.35" fill="url(#gs)"/>
<circle cx="371.6" cy="399.3" r="2.35" fill="url(#gs)"/>
<circle cx="361.9" cy="402" r="2.35" fill="url(#gs)"/>
<circle cx="376.5" cy="402" r="2.35" fill="url(#gs)"/>
<circle cx="366.8" cy="404.7" r="2.35" fill="url(#gs)"/>
<circle cx="371.6" cy="404.7" r="2.35" fill="url(#gs)"/>
<circle cx="361.9" cy="407.4" r="2.35" fill="url(#gs)"/>
<circle cx="376.5" cy="407.4" r="2.35" fill="url(#gs)"/>
<circle cx="366.8" cy="410.1" r="2.35" fill="url(#gs)"/>
<circle cx="371.6" cy="410.1" r="2.35" fill="url(#gs)"/>
<circle cx="361.9" cy="412.8" r="2.35" fill="url(#gs)"/>
<circle cx="376.5" cy="412.8" r="2.35" fill="url(#gs)"/>
<circle cx="366.8" cy="415.5" r="2.35" fill="url(#gs)"/>
<circle cx="371.6" cy="415.5" r="2.35" fill="url(#gs)"/>
<circle cx="361.9" cy="418.2" r="2.35" fill="url(#gs)"/>
<circle cx="376.5" cy="418.2" r="2.35" fill="url(#gs)"/>
<circle cx="366.8" cy="420.9" r="2.35" fill="url(#gs)"/>
<circle cx="371.6" cy="420.9" r="2.35" fill="url(#gs)"/>
<circle cx="361.9" cy="423.6" r="2.35" fill="url(#gs)"/>
<circle cx="376.5" cy="423.6" r="2.35" fill="url(#gs)"/>
<circle cx="365.7" cy="427.8" r="1.8" fill="url(#gp)" stroke="none" stroke-width="0.45"/>
<circle cx="364.1" cy="427.6" r="1.1" fill="url(#gr)" stroke="none" stroke-width="0.45"/>
<circle cx="372.9" cy="428" r="1.1" fill="url(#gr)" stroke="none" stroke-width="0.45"/>
<circle cx="368.7" cy="424.6" r="2.8" fill="url(#gr)" stroke="none" stroke-width="0.45"/>
<circle cx="368.5" cy="430.5" r="2.8" fill="url(#gr)" stroke="none" stroke-width="0.45"/>
<circle cx="388.05" cy="383.65" r="2.6" fill="#2e2e2e"/>
<circle cx="392.85" cy="383.65" r="2.6" fill="#2e2e2e"/>
<circle cx="383.15" cy="386.35" r="2.6" fill="#2e2e2e"/>
<circle cx="397.75" cy="386.35" r="2.6" fill="#2e2e2e"/>
<circle cx="388.05" cy="389.05" r="2.6" fill="#2e2e2e"/>
<circle cx="392.85" cy="389.05" r="2.6" fill="#2e2e2e"/>
<circle cx="383.15" cy="391.75" r="2.6" fill="#2e2e2e"/>
<circle cx="397.75" cy="391.75" r="2.6" fill="#2e2e2e"/>
<circle cx="388.05" cy="394.45" r="2.6" fill="#2e2e2e"/>
<circle cx="392.85" cy="394.45" r="2.6" fill="#2e2e2e"/>
<circle cx="383.15" cy="397.15" r="2.6" fill="#2e2e2e"/>
<circle cx="397.75" cy="397.15" r="2.6" fill="#2e2e2e"/>
<circle cx="388.05" cy="399.85" r="2.6" fill="#2e2e2e"/>
<circle cx="392.85" cy="399.85" r="2.6" fill="#2e2e2e"/>
<circle cx="383.15" cy="402.55" r="2.6" fill="#2e2e2e"/>
<circle cx="397.75" cy="402.55" r="2.6" fill="#2e2e2e"/>
<circle cx="388.05" cy="405.25" r="2.6" fill="#2e2e2e"/>
<circle cx="392.85" cy="405.25" r="2.6" fill="#2e2e2e"/>
<circle cx="383.15" cy="407.95" r="2.6" fill="#2e2e2e"/>
<circle cx="397.75" cy="407.95" r="2.6" fill="#2e2e2e"/>
<circle cx="388.05" cy="410.65" r="2.6" fill="#2e2e2e"/>
<circle cx="392.85" cy="410.65" r="2.6" fill="#2e2e2e"/>
<circle cx="383.15" cy="413.35" r="2.6" fill="#2e2e2e"/>
<circle cx="397.75" cy="413.35" r="2.6" fill="#2e2e2e"/>
<circle cx="388.05" cy="416.05" r="2.6" fill="#2e2e2e"/>
<circle cx="392.85" cy="416.05" r="2.6" fill="#2e2e2e"/>
<circle cx="383.15" cy="418.75" r="2.6" fill="#2e2e2e"/>
<circle cx="397.75" cy="418.75" r="2.6" fill="#2e2e2e"/>
<circle cx="388.05" cy="421.45" r="2.6" fill="#2e2e2e"/>
<circle cx="392.85" cy="421.45" r="2.6" fill="#2e2e2e"/>
<circle cx="383.15" cy="424.15" r="2.6" fill="#2e2e2e"/>
<circle cx="397.75" cy="424.15" r="2.6" fill="#2e2e2e"/>
<circle cx="388.4" cy="383.1" r="2.35" fill="url(#gs)"/>
<circle cx="393.2" cy="383.1" r="2.35" fill="url(#gs)"/>
<circle cx="383.5" cy="385.8" r="2.35" fill="url(#gs)"/>
<circle cx="398.1" cy="385.8" r="2.35" fill="url(#gs)"/>
<circle cx="388.4" cy="388.5" r="2.35" fill="url(#gs)"/>
<circle cx="393.2" cy="388.5" r="2.35" fill="url(#gs)"/>
<circle cx="383.5" cy="391.2" r="2.35" fill="url(#gs)"/>
<circle cx="398.1" cy="391.2" r="2.35" fill="url(#gs)"/>
<circle cx="388.4" cy="393.9" r="2.35" fill="url(#gs)"/>
<circle cx="393.2" cy="393.9" r="2.35" fill="url(#gs)"/>
<circle cx="383.5" cy="396.6" r="2.35" fill="url(#gs)"/>
<circle cx="398.1" cy="396.6" r="2.35" fill="url(#gs)"/>
<circle cx="388.4" cy="399.3" r="2.35" fill="url(#gs)"/>
<circle cx="393.2" cy="399.3" r="2.35" fill="url(#gs)"/>
<circle cx="383.5" cy="402" r="2.35" fill="url(#gs)"/>
<circle cx="398.1" cy="402" r="2.35" fill="url(#gs)"/>
<circle cx="388.4" cy="404.7" r="2.35" fill="url(#gs)"/>
<circle cx="393.2" cy="404.7" r="2.35" fill="url(#gs)"/>
<circle cx="383.5" cy="407.4" r="2.35" fill="url(#gs)"/>
<circle cx="398.1" cy="407.4" r="2.35" fill="url(#gs)"/>
<circle cx="388.4" cy="410.1" r="2.35" fill="url(#gs)"/>
<circle cx="393.2" cy="410.1" r="2.35" fill="url(#gs)"/>
<circle cx="383.5" cy="412.8" r="2.35" fill="url(#gs)"/>
<circle cx="398.1" cy="412.8" r="2.35" fill="url(#gs)"/>
<circle cx="388.4" cy="415.5" r="2.35" fill="url(#gs)"/>
<circle cx="393.2" cy="415.5" r="2.35" fill="url(#gs)"/>
<circle cx="383.5" cy="418.2" r="2.35" fill="url(#gs)"/>
<circle cx="398.1" cy="418.2" r="2.35" fill="url(#gs)"/>
<circle cx="388.4" cy="420.9" r="2.35" fill="url(#gs)"/>
<circle cx="393.2" cy="420.9" r="2.35" fill="url(#gs)"/>
<circle cx="383.5" cy="423.6" r="2.35" fill="url(#gs)"/>
<circle cx="398.1" cy="423.6" r="2.35" fill="url(#gs)"/>
<circle cx="387.3" cy="427.8" r="1.8" fill="url(#gp)" stroke="none" stroke-width="0.45"/>
<circle cx="385.7" cy="427.6" r="1.1" fill="url(#gr)" stroke="none" stroke-width="0.45"/>
<circle cx="394.5" cy="428" r="1.1" fill="url(#gr)" stroke="none" stroke-width="0.45"/>
<circle cx="390.3" cy="424.6" r="2.8" fill="url(#gr)" stroke="none" stroke-width="0.45"/>
<circle cx="390.1" cy="430.5" r="2.8" fill="url(#gr)" stroke="none" stroke-width="0.45"/>
<circle cx="409.75" cy="383.65" r="2.6" fill="#2e2e2e"/>
<circle cx="414.55" cy="383.65" r="2.6" fill="#2e2e2e"/>
<circle cx="404.85" cy="386.35" r="2.6" fill="#2e2e2e"/>
<circle cx="419.45" cy="386.35" r="2.6" fill="#2e2e2e"/>
<circle cx="409.75" cy="389.05" r="2.6" fill="#2e2e2e"/>
<circle cx="414.55" cy="389.05" r="2.6" fill="#2e2e2e"/>
<circle cx="404.85" cy="391.75" r="2.6" fill="#2e2e2e"/>
<circle cx="419.45" cy="391.75" r="2.6" fill="#2e2e2e"/>
<circle cx="409.75" cy="394.45" r="2.6" fill="#2e2e2e"/>
<circle cx="414.55" cy="394.45" r="2.6" fill="#2e2e2e"/>
<circle cx="404.85" cy="397.15" r="2.6" fill="#2e2e2e"/>
<circle cx="419.45" cy="397.15" r="2.6" fill="#2e2e2e"/>
<circle cx="409.75" cy="399.85" r="2.6" fill="#2e2e2e"/>
<circle cx="414.55" cy="399.85" r="2.6" fill="#2e2e2e"/>
<circle cx="404.85" cy="402.55" r="2.6" fill="#2e2e2e"/>
<circle cx="419.45" cy="402.55" r="2.6" fill="#2e2e2e"/>
<circle cx="409.75" cy="405.25" r="2.6" fill="#2e2e2e"/>
<circle cx="414.55" cy="405.25" r="2.6" fill="#2e2e2e"/>
<circle cx="404.85" cy="407.95" r="2.6" fill="#2e2e2e"/>
<circle cx="419.45" cy="407.95" r="2.6" fill="#2e2e2e"/>
<circle cx="409.75" cy="410.65" r="2.6" fill="#2e2e2e"/>
<circle cx="414.55" cy="410.65" r="2.6" fill="#2e2e2e"/>
<circle cx="404.85" cy="413.35" r="2.6" fill="#2e2e2e"/>
<circle cx="419.45" cy="413.35" r="2.6" fill="#2e2e2e"/>
<circle cx="409.75" cy="416.05" r="2.6" fill="#2e2e2e"/>
<circle cx="414.55" cy="416.05" r="2.6" fill="#2e2e2e"/>
<circle cx="404.85" cy="418.75" r="2.6" fill="#2e2e2e"/>
<circle cx="419.45" cy="418.75" r="2.6" fill="#2e2e2e"/>
<circle cx="409.75" cy="421.45" r="2.6" fill="#2e2e2e"/>
<circle cx="414.55" cy="421.45" r="2.6" fill="#2e2e2e"/>
<circle cx="404.85" cy="424.15" r="2.6" fill="#2e2e2e"/>
<circle cx="419.45" cy="424.15" r="2.6" fill="#2e2e2e"/>
<circle cx="410.1" cy="383.1" r="2.35" fill="url(#gs)"/>
<circle cx="414.9" cy="383.1" r="2.35" fill="url(#gs)"/>
<circle cx="405.2" cy="385.8" r="2.35" fill="url(#gs)"/>
<circle cx="419.8" cy="385.8" r="2.35" fill="url(#gs)"/>
<circle cx="410.1" cy="388.5" r="2.35" fill="url(#gs)"/>
<circle cx="414.9" cy="388.5" r="2.35" fill="url(#gs)"/>
<circle cx="405.2" cy="391.2" r="2.35" fill="url(#gs)"/>
<circle cx="419.8" cy="391.2" r="2.35" fill="url(#gs)"/>
<circle cx="410.1" cy="393.9" r="2.35" fill="url(#gs)"/>
<circle cx="414.9" cy="393.9" r="2.35" fill="url(#gs)"/>
<circle cx="405.2" cy="396.6" r="2.35" fill="url(#gs)"/>
<circle cx="419.8" cy="396.6" r="2.35" fill="url(#gs)"/>
<circle cx="410.1" cy="399.3" r="2.35" fill="url(#gs)"/>
<circle cx="414.9" cy="399.3" r="2.35" fill="url(#gs)"/>
<circle cx="405.2" cy="402" r="2.35" fill="url(#gs)"/>
<circle cx="419.8" cy="402" r="2.35" fill="url(#gs)"/>
<circle cx="410.1" cy="404.7" r="2.35" fill="url(#gs)"/>
<circle cx="414.9" cy="404.7" r="2.35" fill="url(#gs)"/>
<circle cx="405.2" cy="407.4" r="2.35" fill="url(#gs)"/>
<circle cx="419.8" cy="407.4" r="2.35" fill="url(#gs)"/>
<circle cx="410.1" cy="410.1" r="2.35" fill="url(#gs)"/>
<circle cx="414.9" cy="410.1" r="2.35" fill="url(#gs)"/>
<circle cx="405.2" cy="412.8" r="2.35" fill="url(#gs)"/>
<circle cx="419.8" cy="412.8" r="2.35" fill="url(#gs)"/>
<circle cx="410.1" cy="415.5" r="2.35" fill="url(#gs)"/>
<circle cx="414.9" cy="415.5" r="2.35" fill="url(#gs)"/>
<circle cx="405.2" cy="418.2" r="2.35" fill="url(#gs)"/>
<circle cx="419.8" cy="418.2" r="2.35" fill="url(#gs)"/>
<circle cx="410.1" cy="420.9" r="2.35" fill="url(#gs)"/>
<circle cx="414.9" cy="420.9" r="2.35" fill="url(#gs)"/>
<circle cx="405.2" cy="423.6" r="2.35" fill="url(#gs)"/>
<circle cx="419.8" cy="423.6" r="2.35" fill="url(#gs)"/>
<circle cx="409" cy="427.8" r="1.8" fill="url(#gp)" stroke="none" stroke-width="0.45"/>
<circle cx="407.4" cy="427.6" r="1.1" fill="url(#gr)" stroke="none" stroke-width="0.45"/>
<circle cx="416.2" cy="428" r="1.1" fill="url(#gr)" stroke="none" stroke-width="0.45"/>
<circle cx="412" cy="424.6" r="2.8" fill="url(#gr)" stroke="none" stroke-width="0.45"/>
<circle cx="411.8" cy="430.5" r="2.8" fill="url(#gr)" stroke="none" stroke-width="0.45"/>
<circle cx="430.95" cy="383.65" r="2.6" fill="#2e2e2e"/>
<circle cx="435.75" cy="383.65" r="2.6" fill="#2e2e2e"/>
<circle cx="426.05" cy="386.35" r="2.6" fill="#2e2e2e"/>
<circle cx="440.65" cy="386.35" r="2.6" fill="#2e2e2e"/>
<circle cx="430.95" cy="389.05" r="2.6" fill="#2e2e2e"/>
<circle cx="435.75" cy="389.05" r="2.6" fill="#2e2e2e"/>
<circle cx="426.05" cy="391.75" r="2.6" fill="#2e2e2e"/>
<circle cx="440.65" cy="391.75" r="2.6" fill="#2e2e2e"/>
<circle cx="430.95" cy="394.45" r="2.6" fill="#2e2e2e"/>
<circle cx="435.75" cy="394.45" r="2.6" fill="#2e2e2e"/>
<circle cx="426.05" cy="397.15" r="2.6" fill="#2e2e2e"/>
<circle cx="440.65" cy="397.15" r="2.6" fill="#2e2e2e"/>
<circle cx="430.95" cy="399.85" r="2.6" fill="#2e2e2e"/>
<circle cx="435.75" cy="399.85" r="2.6" fill="#2e2e2e"/>
<circle cx="426.05" cy="402.55" r="2.6" fill="#2e2e2e"/>
<circle cx="440.65" cy="402.55" r="2.6" fill="#2e2e2e"/>
<circle cx="430.95" cy="405.25" r="2.6" fill="#2e2e2e"/>
<circle cx="435.75" cy="405.25" r="2.6" fill="#2e2e2e"/>
<circle cx="426.05" cy="407.95" r="2.6" fill="#2e2e2e"/>
<circle cx="440.65" cy="407.95" r="2.6" fill="#2e2e2e"/>
<circle cx="430.95" cy="410.65" r="2.6" fill="#2e2e2e"/>
<circle cx="435.75" cy="410.65" r="2.6" fill="#2e2e2e"/>
<circle cx="426.05" cy="413.35" r="2.6" fill="#2e2e2e"/>
<circle cx="440.65" cy="413.35" r="2.6" fill="#2e2e2e"/>
<circle cx="430.95" cy="416.05" r="2.6" fill="#2e2e2e"/>
<circle cx="435.75" cy="416.05" r="2.6" fill="#2e2e2e"/>
<circle cx="426.05" cy="418.75" r="2.6" fill="#2e2e2e"/>
<circle cx="440.65" cy="418.75" r="2.6" fill="#2e2e2e"/>
<circle cx="430.95" cy="421.45" r="2.6" fill="#2e2e2e"/>
<circle cx="435.75" cy="421.45" r="2.6" fill="#2e2e2e"/>
<circle cx="426.05" cy="424.15" r="2.6" fill="#2e2e2e"/>
<circle cx="440.65" cy="424.15" r="2.6" fill="#2e2e2e"/>
<circle cx="431.3" cy="383.1" r="2.35" fill="url(#gs)"/>
<circle cx="436.1" cy="383.1" r="2.35" fill="url(#gs)"/>
<circle cx="426.4" cy="385.8" r="2.35" fill="url(#gs)"/>
<circle cx="441" cy="385.8" r="2.35" fill="url(#gs)"/>
<circle cx="431.3" cy="388.5" r="2.35" fill="url(#gs)"/>
<circle cx="436.1" cy="388.5" r="2.35" fill="url(#gs)"/>
<circle cx="426.4" cy="391.2" r="2.35" fill="url(#gs)"/>
<circle cx="441" cy="391.2" r="2.35" fill="url(#gs)"/>
<circle cx="431.3" cy="393.9" r="2.35" fill="url(#gs)"/>
<circle cx="436.1" cy="393.9" r="2.35" fill="url(#gs)"/>
<circle cx="426.4" cy="396.6" r="2.35" fill="url(#gs)"/>
<circle cx="441" cy="396.6" r="2.35" fill="url(#gs)"/>
<circle cx="431.3" cy="399.3" r="2.35" fill="url(#gs)"/>
<circle cx="436.1" cy="399.3" r="2.35" fill="url(#gs)"/>
<circle cx="426.4" cy="402" r="2.35" fill="url(#gs)"/>
<circle cx="441" cy="402" r="2.35" fill="url(#gs)"/>
<circle cx="431.3" cy="404.7" r="2.35" fill="url(#gs)"/>
<circle cx="436.1" cy="404.7" r="2.35" fill="url(#gs)"/>
<circle cx="426.4" cy="407.4" r="2.35" fill="url(#gs)"/>
<circle cx="441" cy="407.4" r="2.35" fill="url(#gs)"/>
<circle cx="431.3" cy="410.1" r="2.35" fill="url(#gs)"/>
<circle cx="436.1" cy="410.1" r="2.35" fill="url(#gs)"/>
<circle cx="426.4" cy="412.8" r="2.35" fill="url(#gs)"/>
<circle cx="441" cy="412.8" r="2.35" fill="url(#gs)"/>
<circle cx="431.3" cy="415.5" r="2.35" fill="url(#gs)"/>
<circle cx="436.1" cy="415.5" r="2.35" fill="url(#gs)"/>
<circle cx="426.4" cy="418.2" r="2.35" fill="url(#gs)"/>
<circle cx="441" cy="418.2" r="2.35" fill="url(#gs)"/>
<circle cx="431.3" cy="420.9" r="2.35" fill="url(#gs)"/>
<circle cx="436.1" cy="420.9" r="2.35" fill="url(#gs)"/>
<circle cx="426.4" cy="423.6" r="2.35" fill="url(#gs)"/>
<circle cx="441" cy="423.6" r="2.35" fill="url(#gs)"/>
<circle cx="430.2" cy="427.8" r="1.8" fill="url(#gp)" stroke="none" stroke-width="0.45"/>
<circle cx="428.6" cy="427.6" r="1.1" fill="url(#gr)" stroke="none" stroke-width="0.45"/>
<circle cx="437.4" cy="428" r="1.1" fill="url(#gr)" stroke="none" stroke-width="0.45"/>
<circle cx="433.2" cy="424.6" r="2.8" fill="url(#gr)" stroke="none" stroke-width="0.45"/>
<circle cx="433" cy="430.5" r="2.8" fill="url(#gr)" stroke="none" stroke-width="0.45"/>
<circle cx="361.55" cy="498.55" r="2.6" fill="#2e2e2e"/>
<circle cx="376.15" cy="498.55" r="2.6" fill="#2e2e2e"/>
<circle cx="366.45" cy="495.85" r="2.6" fill="#2e2e2e"/>
<circle cx="371.25" cy="495.85" r="2.6" fill="#2e2e2e"/>
<circle cx="361.55" cy="493.15" r="2.6" fill="#2e2e2e"/>
<circle cx="376.15" cy="493.15" r="2.6" fill="#2e2e2e"/>
<circle cx="366.45" cy="490.45" r="2.6" fill="#2e2e2e"/>
<circle cx="371.25" cy="490.45" r="2.6" fill="#2e2e2e"/>
<circle cx="361.55" cy="487.75" r="2.6" fill="#2e2e2e"/>
<circle cx="376.15" cy="487.75" r="2.6" fill="#2e2e2e"/>
<circle cx="366.45" cy="485.05" r="2.6" fill="#2e2e2e"/>
<circle cx="371.25" cy="485.05" r="2.6" fill="#2e2e2e"/>
<circle cx="361.55" cy="482.35" r="2.6" fill="#2e2e2e"/>
<circle cx="376.15" cy="482.35" r="2.6" fill="#2e2e2e"/>
<circle cx="366.45" cy="479.65" r="2.6" fill="#2e2e2e"/>
<circle cx="371.25" cy="479.65" r="2.6" fill="#2e2e2e"/>
<circle cx="361.55" cy="476.95" r="2.6" fill="#2e2e2e"/>
<circle cx="376.15" cy="476.95" r="2.6" fill="#2e2e2e"/>
<circle cx="366.45" cy="474.25" r="2.6" fill="#2e2e2e"/>
<circle cx="371.25" cy="474.25" r="2.6" fill="#2e2e2e"/>
<circle cx="361.55" cy="471.55" r="2.6" fill="#2e2e2e"/>
<circle cx="376.15" cy="471.55" r="2.6" fill="#2e2e2e"/>
<circle cx="366.45" cy="468.85" r="2.6" fill="#2e2e2e"/>
<circle cx="371.25" cy="468.85" r="2.6" fill="#2e2e2e"/>
<circle cx="361.55" cy="466.15" r="2.6" fill="#2e2e2e"/>
<circle cx="376.15" cy="466.15" r="2.6" fill="#2e2e2e"/>
<circle cx="366.45" cy="463.45" r="2.6" fill="#2e2e2e"/>
<circle cx="371.25" cy="463.45" r="2.6" fill="#2e2e2e"/>
<circle cx="361.55" cy="460.75" r="2.6" fill="#2e2e2e"/>
<circle cx="376.15" cy="460.75" r="2.6" fill="#2e2e2e"/>
<circle cx="366.45" cy="458.05" r="2.6" fill="#2e2e2e"/>
<circle cx="371.25" cy="458.05" r="2.6" fill="#2e2e2e"/>
<circle cx="361.55" cy="455.35" r="2.6" fill="#2e2e2e"/>
<circle cx="376.15" cy="455.35" r="2.6" fill="#2e2e2e"/>
<circle cx="361.9" cy="498" r="2.35" fill="url(#gs)"/>
<circle cx="376.5" cy="498" r="2.35" fill="url(#gs)"/>
<circle cx="366.8" cy="495.3" r="2.35" fill="url(#gs)"/>
<circle cx="371.6" cy="495.3" r="2.35" fill="url(#gs)"/>
<circle cx="361.9" cy="492.6" r="2.35" fill="url(#gs)"/>
<circle cx="376.5" cy="492.6" r="2.35" fill="url(#gs)"/>
<circle cx="366.8" cy="489.9" r="2.35" fill="url(#gs)"/>
<circle cx="371.6" cy="489.9" r="2.35" fill="url(#gs)"/>
<circle cx="361.9" cy="487.2" r="2.35" fill="url(#gs)"/>
<circle cx="376.5" cy="487.2" r="2.35" fill="url(#gs)"/>
<circle cx="366.8" cy="484.5" r="2.35" fill="url(#gs)"/>
<circle cx="371.6" cy="484.5" r="2.35" fill="url(#gs)"/>
<circle cx="361.9" cy="481.8" r="2.35" fill="url(#gs)"/>
<circle cx="376.5" cy="481.8" r="2.35" fill="url(#gs)"/>
<circle cx="366.8" cy="479.1" r="2.35" fill="url(#gs)"/>
<circle cx="371.6" cy="479.1" r="2.35" fill="url(#gs)"/>
<circle cx="361.9" cy="476.4" r="2.35" fill="url(#gs)"/>
<circle cx="376.5" cy="476.4" r="2.35" fill="url(#gs)"/>
<circle cx="366.8" cy="473.7" r="2.35" fill="url(#gs)"/>
<circle cx="371.6" cy="473.7" r="2.35" fill="url(#gs)"/>
<circle cx="361.9" cy="471" r="2.35" fill="url(#gs)"/>
<circle cx="376.5" cy="471" r="2.35" fill="url(#gs)"/>
<circle cx="366.8" cy="468.3" r="2.35" fill="url(#gs)"/>
<circle cx="371.6" cy="468.3" r="2.35" fill="url(#gs)"/>
<circle cx="361.9" cy="465.6" r="2.35" fill="url(#gs)"/>
<circle cx="376.5" cy="465.6" r="2.35" fill="url(#gs)"/>
<circle cx="366.8" cy="462.9" r="2.35" fill="url(#gs)"/>
<circle cx="371.6" cy="462.9" r="2.35" fill="url(#gs)"/>
<circle cx="361.9" cy="460.2" r="2.35" fill="url(#gs)"/>
<circle cx="376.5" cy="460.2" r="2.35" fill="url(#gs)"/>
<circle cx="366.8" cy="457.5" r="2.35" fill="url(#gs)"/>
<circle cx="371.6" cy="457.5" r="2.35" fill="url(#gs)"/>
<circle cx="361.9" cy="454.8" r="2.35" fill="url(#gs)"/>
<circle cx="376.5" cy="454.8" r="2.35" fill="url(#gs)"/>
<circle cx="365.7" cy="450.6" r="1.8" fill="url(#gp)" stroke="none" stroke-width="0.45"/>
<circle cx="364.1" cy="450.8" r="1.1" fill="url(#gr)" stroke="none" stroke-width="0.45"/>
<circle cx="372.9" cy="450.4" r="1.1" fill="url(#gr)" stroke="none" stroke-width="0.45"/>
<circle cx="368.7" cy="453.8" r="2.8" fill="url(#gr)" stroke="none" stroke-width="0.45"/>
<circle cx="368.5" cy="447.9" r="2.8" fill="url(#gr)" stroke="none" stroke-width="0.45"/>
<circle cx="383.15" cy="498.55" r="2.6" fill="#2e2e2e"/>
<circle cx="397.75" cy="498.55" r="2.6" fill="#2e2e2e"/>
<circle cx="388.05" cy="495.85" r="2.6" fill="#2e2e2e"/>
<circle cx="392.85" cy="495.85" r="2.6" fill="#2e2e2e"/>
<circle cx="383.15" cy="493.15" r="2.6" fill="#2e2e2e"/>
<circle cx="397.75" cy="493.15" r="2.6" fill="#2e2e2e"/>
<circle cx="388.05" cy="490.45" r="2.6" fill="#2e2e2e"/>
<circle cx="392.85" cy="490.45" r="2.6" fill="#2e2e2e"/>
<circle cx="383.15" cy="487.75" r="2.6" fill="#2e2e2e"/>
<circle cx="397.75" cy="487.75" r="2.6" fill="#2e2e2e"/>
<circle cx="388.05" cy="485.05" r="2.6" fill="#2e2e2e"/>
<circle cx="392.85" cy="485.05" r="2.6" fill="#2e2e2e"/>
<circle cx="383.15" cy="482.35" r="2.6" fill="#2e2e2e"/>
<circle cx="397.75" cy="482.35" r="2.6" fill="#2e2e2e"/>
<circle cx="388.05" cy="479.65" r="2.6" fill="#2e2e2e"/>
<circle cx="392.85" cy="479.65" r="2.6" fill="#2e2e2e"/>
<circle cx="383.15" cy="476.95" r="2.6" fill="#2e2e2e"/>
<circle cx="397.75" cy="476.95" r="2.6" fill="#2e2e2e"/>
<circle cx="388.05" cy="474.25" r="2.6" fill="#2e2e2e"/>
<circle cx="392.85" cy="474.25" r="2.6" fill="#2e2e2e"/>
<circle cx="383.15" cy="471.55" r="2.6" fill="#2e2e2e"/>
<circle cx="397.75" cy="471.55" r="2.6" fill="#2e2e2e"/>
<circle cx="388.05" cy="468.85" r="2.6" fill="#2e2e2e"/>
<circle cx="392.85" cy="468.85" r="2.6" fill="#2e2e2e"/>
<circle cx="383.15" cy="466.15" r="2.6" fill="#2e2e2e"/>
<circle cx="397.75" cy="466.15" r="2.6" fill="#2e2e2e"/>
<circle cx="388.05" cy="463.45" r="2.6" fill="#2e2e2e"/>
<circle cx="392.85" cy="463.45" r="2.6" fill="#2e2e2e"/>
<circle cx="383.15" cy="460.75" r="2.6" fill="#2e2e2e"/>
<circle cx="397.75" cy="460.75" r="2.6" fill="#2e2e2e"/>
<circle cx="388.05" cy="458.05" r="2.6" fill="#2e2e2e"/>
<circle cx="392.85" cy="458.05" r="2.6" fill="#2e2e2e"/>
<circle cx="383.15" cy="455.35" r="2.6" fill="#2e2e2e"/>
<circle cx="397.75" cy="455.35" r="2.6" fill="#2e2e2e"/>
<circle cx="383.5" cy="498" r="2.35" fill="url(#gs)"/>
<circle cx="398.1" cy="498" r="2.35" fill="url(#gs)"/>
<circle cx="388.4" cy="495.3" r="2.35" fill="url(#gs)"/>
<circle cx="393.2" cy="495.3" r="2.35" fill="url(#gs)"/>
<circle cx="383.5" cy="492.6" r="2.35" fill="url(#gs)"/>
<circle cx="398.1" cy="492.6" r="2.35" fill="url(#gs)"/>
<circle cx="388.4" cy="489.9" r="2.35" fill="url(#gs)"/>
<circle cx="393.2" cy="489.9" r="2.35" fill="url(#gs)"/>
<circle cx="383.5" cy="487.2" r="2.35" fill="url(#gs)"/>
<circle cx="398.1" cy="487.2" r="2.35" fill="url(#gs)"/>
<circle cx="388.4" cy="484.5" r="2.35" fill="url(#gs)"/>
<circle cx="393.2" cy="484.5" r="2.35" fill="url(#gs)"/>
<circle cx="383.5" cy="481.8" r="2.35" fill="url(#gs)"/>
<circle cx="398.1" cy="481.8" r="2.35" fill="url(#gs)"/>
<circle cx="388.4" cy="479.1" r="2.35" fill="url(#gs)"/>
<circle cx="393.2" cy="479.1" r="2.35" fill="url(#gs)"/>
<circle cx="383.5" cy="476.4" r="2.35" fill="url(#gs)"/>
<circle cx="398.1" cy="476.4" r="2.35" fill="url(#gs)"/>
<circle cx="388.4" cy="473.7" r="2.35" fill="url(#gs)"/>
<circle cx="393.2" cy="473.7" r="2.35" fill="url(#gs)"/>
<circle cx="383.5" cy="471" r="2.35" fill="url(#gs)"/>
<circle cx="398.1" cy="471" r="2.35" fill="url(#gs)"/>
<circle cx="388.4" cy="468.3" r="2.35" fill="url(#gs)"/>
<circle cx="393.2" cy="468.3" r="2.35" fill="url(#gs)"/>
<circle cx="383.5" cy="465.6" r="2.35" fill="url(#gs)"/>
<circle cx="398.1" cy="465.6" r="2.35" fill="url(#gs)"/>
<circle cx="388.4" cy="462.9" r="2.35" fill="url(#gs)"/>
<circle cx="393.2" cy="462.9" r="2.35" fill="url(#gs)"/>
<circle cx="383.5" cy="460.2" r="2.35" fill="url(#gs)"/>
<circle cx="398.1" cy="460.2" r="2.35" fill="url(#gs)"/>
<circle cx="388.4" cy="457.5" r="2.35" fill="url(#gs)"/>
<circle cx="393.2" cy="457.5" r="2.35" fill="url(#gs)"/>
<circle cx="383.5" cy="454.8" r="2.35" fill="url(#gs)"/>
<circle cx="398.1" cy="454.8" r="2.35" fill="url(#gs)"/>
<circle cx="387.3" cy="450.6" r="1.8" fill="url(#gp)" stroke="none" stroke-width="0.45"/>
<circle cx="385.7" cy="450.8" r="1.1" fill="url(#gr)" stroke="none" stroke-width="0.45"/>
<circle cx="394.5" cy="450.4" r="1.1" fill="url(#gr)" stroke="none" stroke-width="0.45"/>
<circle cx="390.3" cy="453.8" r="2.8" fill="url(#gr)" stroke="none" stroke-width="0.45"/>
<circle cx="390.1" cy="447.9" r="2.8" fill="url(#gr)" stroke="none" stroke-width="0.45"/>
<circle cx="426.05" cy="498.55" r="2.6" fill="#2e2e2e"/>
<circle cx="440.65" cy="498.55" r="2.6" fill="#2e2e2e"/>
<circle cx="430.95" cy="495.85" r="2.6" fill="#2e2e2e"/>
<circle cx="435.75" cy="495.85" r="2.6" fill="#2e2e2e"/>
<circle cx="426.05" cy="493.15" r="2.6" fill="#2e2e2e"/>
<circle cx="440.65" cy="493.15" r="2.6" fill="#2e2e2e"/>
<circle cx="430.95" cy="490.45" r="2.6" fill="#2e2e2e"/>
<circle cx="435.75" cy="490.45" r="2.6" fill="#2e2e2e"/>
<circle cx="426.05" cy="487.75" r="2.6" fill="#2e2e2e"/>
<circle cx="440.65" cy="487.75" r="2.6" fill="#2e2e2e"/>
<circle cx="430.95" cy="485.05" r="2.6" fill="#2e2e2e"/>
<circle cx="435.75" cy="485.05" r="2.6" fill="#2e2e2e"/>
<circle cx="426.05" cy="482.35" r="2.6" fill="#2e2e2e"/>
<circle cx="440.65" cy="482.35" r="2.6" fill="#2e2e2e"/>
<circle cx="430.95" cy="479.65" r="2.6" fill="#2e2e2e"/>
<circle cx="435.75" cy="479.65" r="2.6" fill="#2e2e2e"/>
<circle cx="426.05" cy="476.95" r="2.6" fill="#2e2e2e"/>
<circle cx="440.65" cy="476.95" r="2.6" fill="#2e2e2e"/>
<circle cx="430.95" cy="474.25" r="2.6" fill="#2e2e2e"/>
<circle cx="435.75" cy="474.25" r="2.6" fill="#2e2e2e"/>
<circle cx="426.05" cy="471.55" r="2.6" fill="#2e2e2e"/>
<circle cx="440.65" cy="471.55" r="2.6" fill="#2e2e2e"/>
<circle cx="430.95" cy="468.85" r="2.6" fill="#2e2e2e"/>
<circle cx="435.75" cy="468.85" r="2.6" fill="#2e2e2e"/>
<circle cx="426.05" cy="466.15" r="2.6" fill="#2e2e2e"/>
<circle cx="440.65" cy="466.15" r="2.6" fill="#2e2e2e"/>
<circle cx="430.95" cy="463.45" r="2.6" fill="#2e2e2e"/>
<circle cx="435.75" cy="463.45" r="2.6" fill="#2e2e2e"/>
<circle cx="426.05" cy="460.75" r="2.6" fill="#2e2e2e"/>
<circle cx="440.65" cy="460.75" r="2.6" fill="#2e2e2e"/>
<circle cx="430.95" cy="458.05" r="2.6" fill="#2e2e2e"/>
<circle cx="435.75" cy="458.05" r="2.6" fill="#2e2e2e"/>
<circle cx="426.05" cy="455.35" r="2.6" fill="#2e2e2e"/>
<circle cx="440.65" cy="455.35" r="2.6" fill="#2e2e2e"/>
<circle cx="426.4" cy="498" r="2.35" fill="url(#gs)"/>
<circle cx="441" cy="498" r="2.35" fill="url(#gs)"/>
<circle cx="431.3" cy="495.3" r="2.35" fill="url(#gs)"/>
<circle cx="436.1" cy="495.3" r="2.35" fill="url(#gs)"/>
<circle cx="426.4" cy="492.6" r="2.35" fill="url(#gs)"/>
<circle cx="441" cy="492.6" r="2.35" fill="url(#gs)"/>
<circle cx="431.3" cy="489.9" r="2.35" fill="url(#gs)"/>
<circle cx="436.1" cy="489.9" r="2.35" fill="url(#gs)"/>
<circle cx="426.4" cy="487.2" r="2.35" fill="url(#gs)"/>
<circle cx="441" cy="487.2" r="2.35" fill="url(#gs)"/>
<circle cx="431.3" cy="484.5" r="2.35" fill="url(#gs)"/>
<circle cx="436.1" cy="484.5" r="2.35" fill="url(#gs)"/>
<circle cx="426.4" cy="481.8" r="2.35" fill="url(#gs)"/>
<circle cx="441" cy="481.8" r="2.35" fill="url(#gs)"/>
<circle cx="431.3" cy="479.1" r="2.35" fill="url(#gs)"/>
<circle cx="436.1" cy="479.1" r="2.35" fill="url(#gs)"/>
<circle cx="426.4" cy="476.4" r="2.35" fill="url(#gs)"/>
<circle cx="441" cy="476.4" r="2.35" fill="url(#gs)"/>
<circle cx="431.3" cy="473.7" r="2.35" fill="url(#gs)"/>
<circle cx="436.1" cy="473.7" r="2.35" fill="url(#gs)"/>
<circle cx="426.4" cy="471" r="2.35" fill="url(#gs)"/>
<circle cx="441" cy="471" r="2.35" fill="url(#gs)"/>
<circle cx="431.3" cy="468.3" r="2.35" fill="url(#gs)"/>
<circle cx="436.1" cy="468.3" r="2.35" fill="url(#gs)"/>
<circle cx="426.4" cy="465.6" r="2.35" fill="url(#gs)"/>
<circle cx="441" cy="465.6" r="2.35" fill="url(#gs)"/>
<circle cx="431.3" cy="462.9" r="2.35" fill="url(#gs)"/>
<circle cx="436.1" cy="462.9" r="2.35" fill="url(#gs)"/>
<circle cx="426.4" cy="460.2" r="2.35" fill="url(#gs)"/>
<circle cx="441" cy="460.2" r="2.35" fill="url(#gs)"/>
<circle cx="431.3" cy="457.5" r="2.35" fill="url(#gs)"/>
<circle cx="436.1" cy="457.5" r="2.35" fill="url(#gs)"/>
<circle cx="426.4" cy="454.8" r="2.35" fill="url(#gs)"/>
<circle cx="441" cy="454.8" r="2.35" fill="url(#gs)"/>
<circle cx="430.2" cy="450.6" r="1.8" fill="url(#gp)" stroke="none" stroke-width="0.45"/>
<circle cx="428.6" cy="450.8" r="1.1" fill="url(#gr)" stroke="none" stroke-width="0.45"/>
<circle cx="437.4" cy="450.4" r="1.1" fill="url(#gr)" stroke="none" stroke-width="0.45"/>
<circle cx="433.2" cy="453.8" r="2.8" fill="url(#gr)" stroke="none" stroke-width="0.45"/>
<circle cx="433" cy="447.9" r="2.8" fill="url(#gr)" stroke="none" stroke-width="0.45"/>
<circle cx="404.85" cy="448.65" r="2.6" fill="#2e2e2e"/>
<circle cx="419.45" cy="448.65" r="2.6" fill="#2e2e2e"/>
<circle cx="409.75" cy="451.35" r="2.6" fill="#2e2e2e"/>
<circle cx="414.55" cy="451.35" r="2.6" fill="#2e2e2e"/>
<circle cx="404.85" cy="454.05" r="2.6" fill="#2e2e2e"/>
<circle cx="419.45" cy="454.05" r="2.6" fill="#2e2e2e"/>
<circle cx="409.75" cy="456.75" r="2.6" fill="#2e2e2e"/>
<circle cx="414.55" cy="456.75" r="2.6" fill="#2e2e2e"/>
<circle cx="404.85" cy="459.45" r="2.6" fill="#2e2e2e"/>
<circle cx="419.45" cy="459.45" r="2.6" fill="#2e2e2e"/>
<circle cx="409.75" cy="462.15" r="2.6" fill="#2e2e2e"/>
<circle cx="414.55" cy="462.15" r="2.6" fill="#2e2e2e"/>
<circle cx="404.85" cy="464.85" r="2.6" fill="#2e2e2e"/>
<circle cx="419.45" cy="464.85" r="2.6" fill="#2e2e2e"/>
<circle cx="409.75" cy="467.55" r="2.6" fill="#2e2e2e"/>
<circle cx="414.55" cy="467.55" r="2.6" fill="#2e2e2e"/>
<circle cx="404.85" cy="470.25" r="2.6" fill="#2e2e2e"/>
<circle cx="419.45" cy="470.25" r="2.6" fill="#2e2e2e"/>
<circle cx="409.75" cy="472.95" r="2.6" fill="#2e2e2e"/>
<circle cx="414.55" cy="472.95" r="2.6" fill="#2e2e2e"/>
<circle cx="404.85" cy="475.65" r="2.6" fill="#2e2e2e"/>
<circle cx="419.45" cy="475.65" r="2.6" fill="#2e2e2e"/>
<circle cx="409.75" cy="478.35" r="2.6" fill="#2e2e2e"/>
<circle cx="414.55" cy="478.35" r="2.6" fill="#2e2e2e"/>
<circle cx="404.85" cy="481.05" r="2.6" fill="#2e2e2e"/>
<circle cx="419.45" cy="481.05" r="2.6" fill="#2e2e2e"/>
<circle cx="409.75" cy="483.75" r="2.6" fill="#2e2e2e"/>
<circle cx="414.55" cy="483.75" r="2.6" fill="#2e2e2e"/>
<circle cx="404.85" cy="486.45" r="2.6" fill="#2e2e2e"/>
<circle cx="419.45" cy="486.45" r="2.6" fill="#2e2e2e"/>
<circle cx="409.75" cy="489.15" r="2.6" fill="#2e2e2e"/>
<circle cx="414.55" cy="489.15" r="2.6" fill="#2e2e2e"/>
<circle cx="404.85" cy="491.85" r="2.6" fill="#2e2e2e"/>
<circle cx="419.45" cy="491.85" r="2.6" fill="#2e2e2e"/>
<circle cx="405.2" cy="448.1" r="2.35" fill="url(#gs)"/>
<circle cx="419.8" cy="448.1" r="2.35" fill="url(#gs)"/>
<circle cx="410.1" cy="450.8" r="2.35" fill="url(#gs)"/>
<circle cx="414.9" cy="450.8" r="2.35" fill="url(#gs)"/>
<circle cx="405.2" cy="453.5" r="2.35" fill="url(#gs)"/>
<circle cx="419.8" cy="453.5" r="2.35" fill="url(#gs)"/>
<circle cx="410.1" cy="456.2" r="2.35" fill="url(#gs)"/>
<circle cx="414.9" cy="456.2" r="2.35" fill="url(#gs)"/>
<circle cx="405.2" cy="458.9" r="2.35" fill="url(#gs)"/>
<circle cx="419.8" cy="458.9" r="2.35" fill="url(#gs)"/>
<circle cx="410.1" cy="461.6" r="2.35" fill="url(#gs)"/>
<circle cx="414.9" cy="461.6" r="2.35" fill="url(#gs)"/>
<circle cx="405.2" cy="464.3" r="2.35" fill="url(#gs)"/>
<circle cx="419.8" cy="464.3" r="2.35" fill="url(#gs)"/>
<circle cx="410.1" cy="467" r="2.35" fill="url(#gs)"/>
<circle cx="414.9" cy="467" r="2.35" fill="url(#gs)"/>
<circle cx="405.2" cy="469.7" r="2.35" fill="url(#gs)"/>
<circle cx="419.8" cy="469.7" r="2.35" fill="url(#gs)"/>
<circle cx="410.1" cy="472.4" r="2.35" fill="url(#gs)"/>
<circle cx="414.9" cy="472.4" r="2.35" fill="url(#gs)"/>
<circle cx="405.2" cy="475.1" r="2.35" fill="url(#gs)"/>
<circle cx="419.8" cy="475.1" r="2.35" fill="url(#gs)"/>
<circle cx="410.1" cy="477.8" r="2.35" fill="url(#gs)"/>
<circle cx="414.9" cy="477.8" r="2.35" fill="url(#gs)"/>
<circle cx="405.2" cy="480.5" r="2.35" fill="url(#gs)"/>
<circle cx="419.8" cy="480.5" r="2.35" fill="url(#gs)"/>
<circle cx="410.1" cy="483.2" r="2.35" fill="url(#gs)"/>
<circle cx="414.9" cy="483.2" r="2.35" fill="url(#gs)"/>
<circle cx="405.2" cy="485.9" r="2.35" fill="url(#gs)"/>
<circle cx="419.8" cy="485.9" r="2.35" fill="url(#gs)"/>
<circle cx="410.1" cy="488.6" r="2.35" fill="url(#gs)"/>
<circle cx="414.9" cy="488.6" r="2.35" fill="url(#gs)"/>
<circle cx="405.2" cy="491.3" r="2.35" fill="url(#gs)"/>
<circle cx="419.8" cy="491.3" r="2.35" fill="url(#gs)"/>
<circle cx="409" cy="495.5" r="1.8" fill="url(#gp)" stroke="none" stroke-width="0.45"/>
<circle cx="407.4" cy="495.3" r="1.1" fill="url(#gr)" stroke="none" stroke-width="0.45"/>
<circle cx="416.2" cy="495.7" r="1.1" fill="url(#gr)" stroke="none" stroke-width="0.45"/>
<circle cx="412" cy="492.3" r="2.8" fill="url(#gr)" stroke="none" stroke-width="0.45"/>
<circle cx="411.8" cy="498.2" r="2.8" fill="url(#gr)" stroke="none" stroke-width="0.45"/>
<circle cx="366.3" cy="438.8" r="3.8" fill="url(#gg2)" stroke="none" stroke-width="0.45"/>
<circle cx="384.2" cy="438.8" r="3.8" fill="url(#gg2)" stroke="none" stroke-width="0.45"/>
<circle cx="403" cy="438.8" r="3.8" fill="url(#gg2)" stroke="none" stroke-width="0.45"/>
<circle cx="421.2" cy="438.8" r="3.8" fill="url(#gg2)" stroke="none" stroke-width="0.45"/>
<circle cx="439.6" cy="438.8" r="3.8" fill="url(#gg2)" stroke="none" stroke-width="0.45"/>
<rect x="356.4" y="357.6" width="93.1" height="154.4" fill="none" stroke="#222222" stroke-width="1.45"/>
<text x="358.8" y="367.6" font-size="9" text-anchor="start" font-weight="bold" textLength="10.4" lengthAdjust="spacingAndGlyphs" >(f)</text>
<text x="447.2" y="367.4" font-size="9" text-anchor="end" font-weight="bold" textLength="32" lengthAdjust="spacingAndGlyphs" >Bilayer</text>
</svg></body></html>
